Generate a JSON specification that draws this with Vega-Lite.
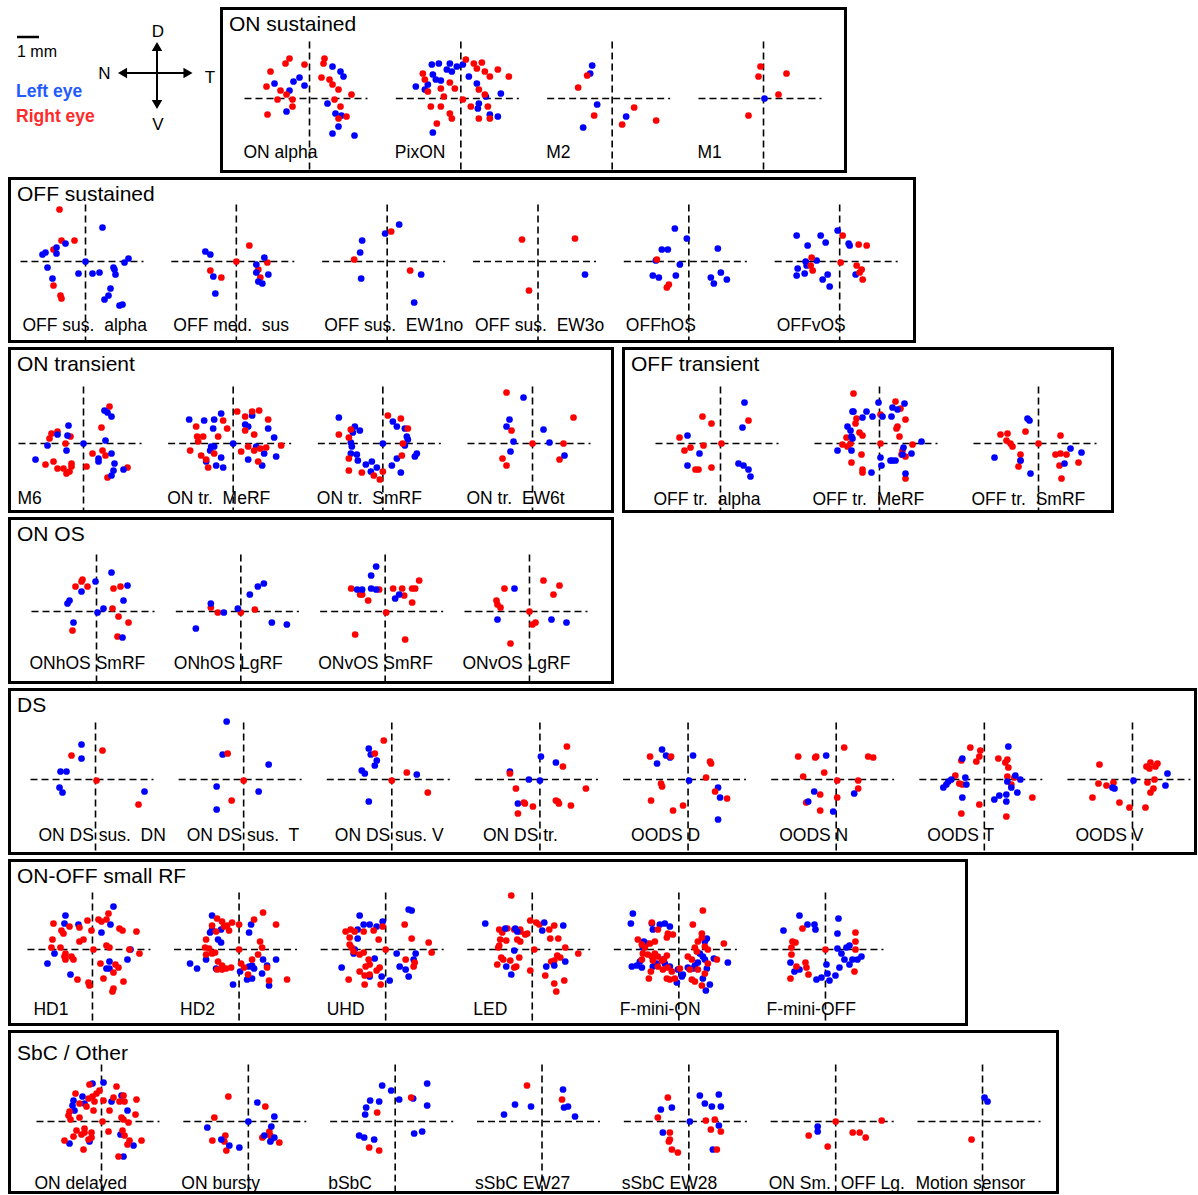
{
"$schema": "https://vega.github.io/schema/vega-lite/v6.json",
"background": "white",
"padding": {"left": 7.5, "top": 6.5, "right": 0, "bottom": 0},
"spacing": 2,
"resolve": {"scale": {"xOffset": "independent"}},
"config": {
  "view": {"stroke": "black", "strokeWidth": 3},
  "font": "Liberation Sans",
  "title": {"anchor": "start", "frame": "group", "fontSize": 21, "fontWeight": "normal", "color": "black", "offset": -26, "baseline": "alphabetic", "dx": 7.5}
},
"datasets": {
"panels": [
{"g":1,"p":"1a","label":"ON alpha"},{"g":1,"p":"1b","label":"PixON"},{"g":1,"p":"1c","label":"M2"},{"g":1,"p":"1d","label":"M1"},
{"g":2,"p":"2a","label":"OFF sus.\u00a0 alpha"},{"g":2,"p":"2b","label":"OFF med.\u00a0 sus"},{"g":2,"p":"2c","label":"OFF sus.\u00a0 EW1no"},{"g":2,"p":"2d","label":"OFF sus.\u00a0 EW3o"},{"g":2,"p":"2e","label":"OFFhOS"},{"g":2,"p":"2f","label":"OFFvOS"},
{"g":3,"p":"3a","label":"M6"},{"g":3,"p":"3b","label":"ON tr.\u00a0 MeRF"},{"g":3,"p":"3c","label":"ON tr.\u00a0 SmRF"},{"g":3,"p":"3d","label":"ON tr.\u00a0 EW6t"},
{"g":4,"p":"4a","label":"OFF tr.\u00a0 alpha"},{"g":4,"p":"4b","label":"OFF tr.\u00a0 MeRF"},{"g":4,"p":"4c","label":"OFF tr.\u00a0 SmRF"},
{"g":5,"p":"5a","label":"ONhOS SmRF"},{"g":5,"p":"5b","label":"ONhOS LgRF"},{"g":5,"p":"5c","label":"ONvOS SmRF"},{"g":5,"p":"5d","label":"ONvOS LgRF"},
{"g":6,"p":"6a","label":"ON DS sus.\u00a0 DN"},{"g":6,"p":"6b","label":"ON DS sus.\u00a0 T"},{"g":6,"p":"6c","label":"ON DS sus. V"},{"g":6,"p":"6d","label":"ON DS tr."},{"g":6,"p":"6e","label":"OODS D"},{"g":6,"p":"6f","label":"OODS N"},{"g":6,"p":"6g","label":"OODS T"},{"g":6,"p":"6h","label":"OODS V"},
{"g":7,"p":"7a","label":"HD1"},{"g":7,"p":"7b","label":"HD2"},{"g":7,"p":"7c","label":"UHD"},{"g":7,"p":"7d","label":"LED"},{"g":7,"p":"7e","label":"F-mini-ON"},{"g":7,"p":"7f","label":"F-mini-OFF"},
{"g":8,"p":"8a","label":"ON delayed"},{"g":8,"p":"8b","label":"ON bursty"},{"g":8,"p":"8c","label":"bSbC"},{"g":8,"p":"8d","label":"sSbC EW27"},{"g":8,"p":"8e","label":"sSbC EW28"},{"g":8,"p":"8f","label":"ON Sm.\u00a0 OFF Lg."},{"g":8,"p":"8g","label":"Motion sensor"}
],
"pts": [
{"g":1,"p":"1a","e":"L","x":-10,"y":21},{"g":1,"p":"1a","e":"L","x":-16,"y":17},{"g":1,"p":"1a","e":"L","x":-35,"y":15},{"g":1,"p":"1a","e":"L","x":-20,"y":8},{"g":1,"p":"1a","e":"L","x":-5,"y":13},{"g":1,"p":"1a","e":"L","x":-23,"y":-13},{"g":1,"p":"1a","e":"L","x":23,"y":32},{"g":1,"p":"1a","e":"L","x":31,"y":27},{"g":1,"p":"1a","e":"L","x":34,"y":22},{"g":1,"p":"1a","e":"L","x":18,"y":-5},{"g":1,"p":"1a","e":"L","x":26,"y":-15},{"g":1,"p":"1a","e":"L","x":32,"y":-17},{"g":1,"p":"1a","e":"L","x":29,"y":-28},{"g":1,"p":"1a","e":"L","x":23,"y":-35},{"g":1,"p":"1a","e":"L","x":45,"y":-37},
{"g":1,"p":"1a","e":"R","x":-20,"y":40},{"g":1,"p":"1a","e":"R","x":-24,"y":35},{"g":1,"p":"1a","e":"R","x":-39,"y":27},{"g":1,"p":"1a","e":"R","x":-43,"y":12},{"g":1,"p":"1a","e":"R","x":-29,"y":8},{"g":1,"p":"1a","e":"R","x":-32,"y":-1},{"g":1,"p":"1a","e":"R","x":-17,"y":-8},{"g":1,"p":"1a","e":"R","x":-17,"y":-1},{"g":1,"p":"1a","e":"R","x":-42,"y":-16},{"g":1,"p":"1a","e":"R","x":15,"y":40},{"g":1,"p":"1a","e":"R","x":14,"y":35},{"g":1,"p":"1a","e":"R","x":12,"y":21},{"g":1,"p":"1a","e":"R","x":20,"y":19},{"g":1,"p":"1a","e":"R","x":23,"y":14},{"g":1,"p":"1a","e":"R","x":29,"y":9},{"g":1,"p":"1a","e":"R","x":42,"y":4},{"g":1,"p":"1a","e":"R","x":25,"y":-1},{"g":1,"p":"1a","e":"R","x":31,"y":-8},{"g":1,"p":"1a","e":"R","x":29,"y":-20},{"g":1,"p":"1a","e":"R","x":37,"y":-18},{"g":1,"p":"1a","e":"R","x":-5,"y":34},{"g":1,"p":"1a","e":"R","x":-23,"y":4},
{"g":1,"p":"1b","e":"L","x":-29,"y":34},{"g":1,"p":"1b","e":"L","x":-22,"y":35},{"g":1,"p":"1b","e":"L","x":-11,"y":35},{"g":1,"p":"1b","e":"L","x":-4,"y":32},{"g":1,"p":"1b","e":"L","x":-14,"y":29},{"g":1,"p":"1b","e":"L","x":-9,"y":27},{"g":1,"p":"1b","e":"L","x":-28,"y":24},{"g":1,"p":"1b","e":"L","x":-25,"y":19},{"g":1,"p":"1b","e":"L","x":-20,"y":18},{"g":1,"p":"1b","e":"L","x":-33,"y":14},{"g":1,"p":"1b","e":"L","x":-45,"y":12},{"g":1,"p":"1b","e":"L","x":-36,"y":9},{"g":1,"p":"1b","e":"L","x":8,"y":22},{"g":1,"p":"1b","e":"L","x":16,"y":15},{"g":1,"p":"1b","e":"L","x":40,"y":5},{"g":1,"p":"1b","e":"L","x":18,"y":-5},{"g":1,"p":"1b","e":"L","x":17,"y":-10},{"g":1,"p":"1b","e":"L","x":29,"y":-16},{"g":1,"p":"1b","e":"L","x":37,"y":-18},{"g":1,"p":"1b","e":"L","x":-28,"y":-34},{"g":1,"p":"1b","e":"L","x":25,"y":2},{"g":1,"p":"1b","e":"L","x":2,"y":34},
{"g":1,"p":"1b","e":"R","x":5,"y":39},{"g":1,"p":"1b","e":"R","x":13,"y":35},{"g":1,"p":"1b","e":"R","x":21,"y":36},{"g":1,"p":"1b","e":"R","x":16,"y":30},{"g":1,"p":"1b","e":"R","x":24,"y":27},{"g":1,"p":"1b","e":"R","x":29,"y":22},{"g":1,"p":"1b","e":"R","x":37,"y":29},{"g":1,"p":"1b","e":"R","x":48,"y":22},{"g":1,"p":"1b","e":"R","x":-38,"y":25},{"g":1,"p":"1b","e":"R","x":-36,"y":19},{"g":1,"p":"1b","e":"R","x":-20,"y":10},{"g":1,"p":"1b","e":"R","x":-11,"y":16},{"g":1,"p":"1b","e":"R","x":-6,"y":10},{"g":1,"p":"1b","e":"R","x":-33,"y":7},{"g":1,"p":"1b","e":"R","x":-17,"y":2},{"g":1,"p":"1b","e":"R","x":-30,"y":-8},{"g":1,"p":"1b","e":"R","x":-20,"y":-8},{"g":1,"p":"1b","e":"R","x":-11,"y":-15},{"g":1,"p":"1b","e":"R","x":-9,"y":-20},{"g":1,"p":"1b","e":"R","x":-24,"y":-25},{"g":1,"p":"1b","e":"R","x":2,"y":-1},{"g":1,"p":"1b","e":"R","x":10,"y":-8},{"g":1,"p":"1b","e":"R","x":27,"y":-8},{"g":1,"p":"1b","e":"R","x":29,"y":-20},{"g":1,"p":"1b","e":"R","x":18,"y":-20},{"g":1,"p":"1b","e":"R","x":18,"y":9},{"g":1,"p":"1b","e":"R","x":24,"y":4},
{"g":1,"p":"1c","e":"L","x":-20,"y":33},{"g":1,"p":"1c","e":"L","x":-22,"y":25},{"g":1,"p":"1c","e":"L","x":-15,"y":-6},{"g":1,"p":"1c","e":"L","x":-29,"y":-29},{"g":1,"p":"1c","e":"L","x":14,"y":-18},
{"g":1,"p":"1c","e":"R","x":-25,"y":23},{"g":1,"p":"1c","e":"R","x":-34,"y":11},{"g":1,"p":"1c","e":"R","x":-18,"y":-17},{"g":1,"p":"1c","e":"R","x":22,"y":-9},{"g":1,"p":"1c","e":"R","x":10,"y":-26},{"g":1,"p":"1c","e":"R","x":44,"y":-22},
{"g":1,"p":"1d","e":"R","x":-3,"y":32},{"g":1,"p":"1d","e":"R","x":-5,"y":22},{"g":1,"p":"1d","e":"R","x":23,"y":25},{"g":1,"p":"1d","e":"R","x":15,"y":4},{"g":1,"p":"1d","e":"R","x":-15,"y":-17},{"g":1,"p":"1d","e":"L","x":1,"y":0},
{"g":2,"p":"2a","e":"R","x":-26,"y":52},{"g":2,"p":"2a","e":"R","x":-24,"y":21},{"g":2,"p":"2a","e":"R","x":-11,"y":21},{"g":2,"p":"2a","e":"R","x":-32,"y":12},{"g":2,"p":"2a","e":"R","x":-32,"y":-24},{"g":2,"p":"2a","e":"R","x":-25,"y":-34},{"g":2,"p":"2a","e":"R","x":-24,"y":-37},
{"g":2,"p":"2a","e":"L","x":17,"y":34},{"g":2,"p":"2a","e":"L","x":-20,"y":18},{"g":2,"p":"2a","e":"L","x":-29,"y":14},{"g":2,"p":"2a","e":"L","x":-29,"y":8},{"g":2,"p":"2a","e":"L","x":-43,"y":7},{"g":2,"p":"2a","e":"L","x":-40,"y":9},{"g":2,"p":"2a","e":"L","x":-38,"y":-6},{"g":2,"p":"2a","e":"L","x":-33,"y":-17},{"g":2,"p":"2a","e":"L","x":-7,"y":-12},{"g":2,"p":"2a","e":"L","x":0,"y":0},{"g":2,"p":"2a","e":"L","x":7,"y":-12},{"g":2,"p":"2a","e":"L","x":14,"y":-11},{"g":2,"p":"2a","e":"L","x":28,"y":-6},{"g":2,"p":"2a","e":"L","x":29,"y":-8},{"g":2,"p":"2a","e":"L","x":30,"y":-13},{"g":2,"p":"2a","e":"L","x":25,"y":-27},{"g":2,"p":"2a","e":"L","x":23,"y":-34},{"g":2,"p":"2a","e":"L","x":19,"y":-38},{"g":2,"p":"2a","e":"L","x":34,"y":-44},{"g":2,"p":"2a","e":"L","x":37,"y":-43},{"g":2,"p":"2a","e":"L","x":39,"y":-1},{"g":2,"p":"2a","e":"L","x":43,"y":3},
{"g":2,"p":"2b","e":"R","x":13,"y":16},{"g":2,"p":"2b","e":"R","x":-26,"y":-9},{"g":2,"p":"2b","e":"R","x":-15,"y":-16},{"g":2,"p":"2b","e":"R","x":0,"y":0},{"g":2,"p":"2b","e":"R","x":22,"y":-8},{"g":2,"p":"2b","e":"R","x":24,"y":-16},{"g":2,"p":"2b","e":"R","x":31,"y":-1},
{"g":2,"p":"2b","e":"L","x":-31,"y":10},{"g":2,"p":"2b","e":"L","x":-26,"y":7},{"g":2,"p":"2b","e":"L","x":-23,"y":-15},{"g":2,"p":"2b","e":"L","x":-21,"y":-32},{"g":2,"p":"2b","e":"L","x":28,"y":4},{"g":2,"p":"2b","e":"L","x":20,"y":-3},{"g":2,"p":"2b","e":"L","x":20,"y":-11},{"g":2,"p":"2b","e":"L","x":22,"y":-20},{"g":2,"p":"2b","e":"L","x":26,"y":-22},{"g":2,"p":"2b","e":"L","x":32,"y":-13},
{"g":2,"p":"2c","e":"L","x":-25,"y":21},{"g":2,"p":"2c","e":"L","x":-27,"y":9},{"g":2,"p":"2c","e":"L","x":-26,"y":-17},{"g":2,"p":"2c","e":"L","x":-2,"y":28},{"g":2,"p":"2c","e":"L","x":12,"y":37},{"g":2,"p":"2c","e":"L","x":34,"y":-13},{"g":2,"p":"2c","e":"L","x":27,"y":-41},
{"g":2,"p":"2c","e":"R","x":-33,"y":2},{"g":2,"p":"2c","e":"R","x":4,"y":30},{"g":2,"p":"2c","e":"R","x":23,"y":-9},
{"g":2,"p":"2d","e":"R","x":-16,"y":22},{"g":2,"p":"2d","e":"R","x":-9,"y":-29},{"g":2,"p":"2d","e":"R","x":37,"y":23},{"g":2,"p":"2d","e":"L","x":47,"y":-13},
{"g":2,"p":"2e","e":"L","x":-14,"y":33},{"g":2,"p":"2e","e":"L","x":-2,"y":23},{"g":2,"p":"2e","e":"L","x":-27,"y":12},{"g":2,"p":"2e","e":"L","x":-21,"y":12},{"g":2,"p":"2e","e":"L","x":-33,"y":1},{"g":2,"p":"2e","e":"L","x":-9,"y":-3},{"g":2,"p":"2e","e":"L","x":-36,"y":-14},{"g":2,"p":"2e","e":"L","x":-30,"y":-16},{"g":2,"p":"2e","e":"L","x":-13,"y":-14},{"g":2,"p":"2e","e":"L","x":29,"y":13},{"g":2,"p":"2e","e":"L","x":32,"y":-11},{"g":2,"p":"2e","e":"L","x":22,"y":-16},{"g":2,"p":"2e","e":"L","x":25,"y":-22},{"g":2,"p":"2e","e":"L","x":38,"y":-18},
{"g":2,"p":"2e","e":"R","x":-32,"y":2},{"g":2,"p":"2e","e":"R","x":-20,"y":-23},{"g":2,"p":"2e","e":"R","x":-22,"y":-26},
{"g":2,"p":"2f","e":"L","x":-43,"y":26},{"g":2,"p":"2f","e":"L","x":-32,"y":16},{"g":2,"p":"2f","e":"L","x":-19,"y":26},{"g":2,"p":"2f","e":"L","x":-14,"y":19},{"g":2,"p":"2f","e":"L","x":-2,"y":31},{"g":2,"p":"2f","e":"L","x":9,"y":18},{"g":2,"p":"2f","e":"L","x":10,"y":16},{"g":2,"p":"2f","e":"L","x":-34,"y":0},{"g":2,"p":"2f","e":"L","x":-23,"y":1},{"g":2,"p":"2f","e":"L","x":-33,"y":-4},{"g":2,"p":"2f","e":"L","x":-42,"y":-7},{"g":2,"p":"2f","e":"L","x":-35,"y":-12},{"g":2,"p":"2f","e":"L","x":-43,"y":-14},{"g":2,"p":"2f","e":"L","x":-17,"y":-18},{"g":2,"p":"2f","e":"L","x":-12,"y":-13},{"g":2,"p":"2f","e":"L","x":-10,"y":-25},{"g":2,"p":"2f","e":"L","x":16,"y":-13},
{"g":2,"p":"2f","e":"R","x":3,"y":26},{"g":2,"p":"2f","e":"R","x":19,"y":17},{"g":2,"p":"2f","e":"R","x":27,"y":16},{"g":2,"p":"2f","e":"R","x":-28,"y":4},{"g":2,"p":"2f","e":"R","x":-29,"y":-4},{"g":2,"p":"2f","e":"R","x":-27,"y":-9},{"g":2,"p":"2f","e":"R","x":1,"y":-1},{"g":2,"p":"2f","e":"R","x":17,"y":-4},{"g":2,"p":"2f","e":"R","x":22,"y":-8},{"g":2,"p":"2f","e":"R","x":20,"y":-11},{"g":2,"p":"2f","e":"R","x":23,"y":-18},
{"g":3,"p":"3a","e":"R","x":-32,"y":10},{"g":3,"p":"3a","e":"R","x":-26,"y":12},{"g":3,"p":"3a","e":"R","x":-34,"y":5},{"g":3,"p":"3a","e":"R","x":-13,"y":7},{"g":3,"p":"3a","e":"R","x":-18,"y":0},{"g":3,"p":"3a","e":"R","x":-38,"y":-21},{"g":3,"p":"3a","e":"R","x":-30,"y":-18},{"g":3,"p":"3a","e":"R","x":-26,"y":-25},{"g":3,"p":"3a","e":"R","x":-20,"y":-25},{"g":3,"p":"3a","e":"R","x":-17,"y":-30},{"g":3,"p":"3a","e":"R","x":-14,"y":-28},{"g":3,"p":"3a","e":"R","x":-12,"y":-20},{"g":3,"p":"3a","e":"R","x":-12,"y":-23},{"g":3,"p":"3a","e":"R","x":3,"y":-23},{"g":3,"p":"3a","e":"R","x":18,"y":16},{"g":3,"p":"3a","e":"R","x":26,"y":37},{"g":3,"p":"3a","e":"R","x":9,"y":-10},{"g":3,"p":"3a","e":"R","x":19,"y":-7},{"g":3,"p":"3a","e":"R","x":22,"y":-12},{"g":3,"p":"3a","e":"R","x":24,"y":-34},{"g":3,"p":"3a","e":"R","x":44,"y":-24},
{"g":3,"p":"3a","e":"L","x":-15,"y":18},{"g":3,"p":"3a","e":"L","x":-16,"y":8},{"g":3,"p":"3a","e":"L","x":-36,"y":-2},{"g":3,"p":"3a","e":"L","x":-26,"y":9},{"g":3,"p":"3a","e":"L","x":-17,"y":-7},{"g":3,"p":"3a","e":"L","x":-48,"y":-16},{"g":3,"p":"3a","e":"L","x":0,"y":0},{"g":3,"p":"3a","e":"L","x":21,"y":33},{"g":3,"p":"3a","e":"L","x":24,"y":31},{"g":3,"p":"3a","e":"L","x":28,"y":27},{"g":3,"p":"3a","e":"L","x":22,"y":3},{"g":3,"p":"3a","e":"L","x":28,"y":-10},{"g":3,"p":"3a","e":"L","x":15,"y":-15},{"g":3,"p":"3a","e":"L","x":15,"y":-18},{"g":3,"p":"3a","e":"L","x":30,"y":-27},{"g":3,"p":"3a","e":"L","x":28,"y":-32},{"g":3,"p":"3a","e":"L","x":40,"y":-26},{"g":3,"p":"3a","e":"L","x":31,"y":-20},
{"g":3,"p":"3b","e":"L","x":-44,"y":24},{"g":3,"p":"3b","e":"L","x":-29,"y":23},{"g":3,"p":"3b","e":"L","x":-19,"y":24},{"g":3,"p":"3b","e":"L","x":-12,"y":30},{"g":3,"p":"3b","e":"L","x":-20,"y":15},{"g":3,"p":"3b","e":"L","x":-22,"y":-3},{"g":3,"p":"3b","e":"L","x":-19,"y":-3},{"g":3,"p":"3b","e":"L","x":-23,"y":-7},{"g":3,"p":"3b","e":"L","x":-12,"y":-14},{"g":3,"p":"3b","e":"L","x":-27,"y":-18},{"g":3,"p":"3b","e":"L","x":-17,"y":-22},{"g":3,"p":"3b","e":"L","x":-10,"y":-24},{"g":3,"p":"3b","e":"L","x":0,"y":0},{"g":3,"p":"3b","e":"L","x":12,"y":19},{"g":3,"p":"3b","e":"L","x":19,"y":28},{"g":3,"p":"3b","e":"L","x":15,"y":17},{"g":3,"p":"3b","e":"L","x":35,"y":15},{"g":3,"p":"3b","e":"L","x":41,"y":6},{"g":3,"p":"3b","e":"L","x":15,"y":-16},{"g":3,"p":"3b","e":"L","x":23,"y":-3},{"g":3,"p":"3b","e":"L","x":31,"y":-10},{"g":3,"p":"3b","e":"L","x":29,"y":-22},{"g":3,"p":"3b","e":"L","x":43,"y":-13},
{"g":3,"p":"3b","e":"R","x":-37,"y":17},{"g":3,"p":"3b","e":"R","x":-36,"y":7},{"g":3,"p":"3b","e":"R","x":-30,"y":7},{"g":3,"p":"3b","e":"R","x":-35,"y":2},{"g":3,"p":"3b","e":"R","x":-43,"y":-7},{"g":3,"p":"3b","e":"R","x":-32,"y":-12},{"g":3,"p":"3b","e":"R","x":-27,"y":-16},{"g":3,"p":"3b","e":"R","x":-25,"y":-24},{"g":3,"p":"3b","e":"R","x":-19,"y":-10},{"g":3,"p":"3b","e":"R","x":-15,"y":7},{"g":3,"p":"3b","e":"R","x":-10,"y":23},{"g":3,"p":"3b","e":"R","x":-6,"y":15},{"g":3,"p":"3b","e":"R","x":4,"y":32},{"g":3,"p":"3b","e":"R","x":12,"y":27},{"g":3,"p":"3b","e":"R","x":19,"y":32},{"g":3,"p":"3b","e":"R","x":26,"y":33},{"g":3,"p":"3b","e":"R","x":35,"y":24},{"g":3,"p":"3b","e":"R","x":12,"y":13},{"g":3,"p":"3b","e":"R","x":21,"y":9},{"g":3,"p":"3b","e":"R","x":15,"y":-3},{"g":3,"p":"3b","e":"R","x":21,"y":-7},{"g":3,"p":"3b","e":"R","x":25,"y":-18},{"g":3,"p":"3b","e":"R","x":33,"y":-4},{"g":3,"p":"3b","e":"R","x":48,"y":-2},{"g":3,"p":"3b","e":"R","x":8,"y":-8},{"g":3,"p":"3b","e":"R","x":27,"y":-5},
{"g":3,"p":"3c","e":"L","x":-44,"y":26},{"g":3,"p":"3c","e":"L","x":-28,"y":17},{"g":3,"p":"3c","e":"L","x":-23,"y":13},{"g":3,"p":"3c","e":"L","x":-30,"y":11},{"g":3,"p":"3c","e":"L","x":-32,"y":1},{"g":3,"p":"3c","e":"L","x":-31,"y":-3},{"g":3,"p":"3c","e":"L","x":-32,"y":-10},{"g":3,"p":"3c","e":"L","x":-26,"y":-11},{"g":3,"p":"3c","e":"L","x":-25,"y":-17},{"g":3,"p":"3c","e":"L","x":-17,"y":-21},{"g":3,"p":"3c","e":"L","x":-11,"y":-18},{"g":3,"p":"3c","e":"L","x":-6,"y":-24},{"g":3,"p":"3c","e":"L","x":-12,"y":-28},{"g":3,"p":"3c","e":"L","x":0,"y":0},{"g":3,"p":"3c","e":"L","x":10,"y":22},{"g":3,"p":"3c","e":"L","x":14,"y":17},{"g":3,"p":"3c","e":"L","x":22,"y":15},{"g":3,"p":"3c","e":"L","x":24,"y":7},{"g":3,"p":"3c","e":"L","x":25,"y":4},{"g":3,"p":"3c","e":"L","x":22,"y":-2},{"g":3,"p":"3c","e":"L","x":14,"y":-15},{"g":3,"p":"3c","e":"L","x":9,"y":-22},{"g":3,"p":"3c","e":"L","x":18,"y":-29},{"g":3,"p":"3c","e":"L","x":34,"y":-10},{"g":3,"p":"3c","e":"L","x":32,"y":-13},
{"g":3,"p":"3c","e":"R","x":-44,"y":9},{"g":3,"p":"3c","e":"R","x":-32,"y":14},{"g":3,"p":"3c","e":"R","x":-34,"y":6},{"g":3,"p":"3c","e":"R","x":-34,"y":-15},{"g":3,"p":"3c","e":"R","x":-34,"y":-27},{"g":3,"p":"3c","e":"R","x":-21,"y":-29},{"g":3,"p":"3c","e":"R","x":-9,"y":-32},{"g":3,"p":"3c","e":"R","x":-3,"y":-36},{"g":3,"p":"3c","e":"R","x":0,"y":-28},{"g":3,"p":"3c","e":"R","x":5,"y":28},{"g":3,"p":"3c","e":"R","x":18,"y":25},{"g":3,"p":"3c","e":"R","x":25,"y":15},{"g":3,"p":"3c","e":"R","x":20,"y":0},{"g":3,"p":"3c","e":"R","x":19,"y":-12},
{"g":3,"p":"3d","e":"R","x":-26,"y":51},{"g":3,"p":"3d","e":"R","x":-21,"y":13},{"g":3,"p":"3d","e":"R","x":-30,"y":-15},{"g":3,"p":"3d","e":"R","x":-26,"y":-22},{"g":3,"p":"3d","e":"R","x":0,"y":0},{"g":3,"p":"3d","e":"R","x":41,"y":26},{"g":3,"p":"3d","e":"R","x":31,"y":0},{"g":3,"p":"3d","e":"R","x":27,"y":-16},
{"g":3,"p":"3d","e":"L","x":-9,"y":46},{"g":3,"p":"3d","e":"L","x":-23,"y":24},{"g":3,"p":"3d","e":"L","x":-26,"y":17},{"g":3,"p":"3d","e":"L","x":-19,"y":2},{"g":3,"p":"3d","e":"L","x":-22,"y":-8},{"g":3,"p":"3d","e":"L","x":11,"y":14},{"g":3,"p":"3d","e":"L","x":17,"y":1},{"g":3,"p":"3d","e":"L","x":32,"y":-12},
{"g":4,"p":"4a","e":"R","x":-41,"y":6},{"g":4,"p":"4a","e":"R","x":-36,"y":-7},{"g":4,"p":"4a","e":"R","x":-30,"y":-4},{"g":4,"p":"4a","e":"R","x":-18,"y":27},{"g":4,"p":"4a","e":"R","x":-9,"y":20},{"g":4,"p":"4a","e":"R","x":-17,"y":-2},{"g":4,"p":"4a","e":"R","x":1,"y":0},{"g":4,"p":"4a","e":"R","x":-25,"y":-26},{"g":4,"p":"4a","e":"R","x":-22,"y":-26},{"g":4,"p":"4a","e":"R","x":-9,"y":-24},{"g":4,"p":"4a","e":"R","x":28,"y":23},
{"g":4,"p":"4a","e":"L","x":-33,"y":8},{"g":4,"p":"4a","e":"L","x":-21,"y":-10},{"g":4,"p":"4a","e":"L","x":-33,"y":-22},{"g":4,"p":"4a","e":"L","x":24,"y":41},{"g":4,"p":"4a","e":"L","x":22,"y":16},{"g":4,"p":"4a","e":"L","x":18,"y":-20},{"g":4,"p":"4a","e":"L","x":23,"y":-22},{"g":4,"p":"4a","e":"L","x":28,"y":-26},{"g":4,"p":"4a","e":"L","x":30,"y":-33},
{"g":4,"p":"4b","e":"R","x":-26,"y":50},{"g":4,"p":"4b","e":"R","x":-23,"y":25},{"g":4,"p":"4b","e":"R","x":-24,"y":20},{"g":4,"p":"4b","e":"R","x":-20,"y":11},{"g":4,"p":"4b","e":"R","x":-17,"y":8},{"g":4,"p":"4b","e":"R","x":-33,"y":6},{"g":4,"p":"4b","e":"R","x":-37,"y":-1},{"g":4,"p":"4b","e":"R","x":-32,"y":-3},{"g":4,"p":"4b","e":"R","x":-29,"y":0},{"g":4,"p":"4b","e":"R","x":-18,"y":-11},{"g":4,"p":"4b","e":"R","x":-28,"y":-19},{"g":4,"p":"4b","e":"R","x":-17,"y":-26},{"g":4,"p":"4b","e":"R","x":-17,"y":-29},{"g":4,"p":"4b","e":"R","x":1,"y":0},{"g":4,"p":"4b","e":"R","x":16,"y":42},{"g":4,"p":"4b","e":"R","x":21,"y":35},{"g":4,"p":"4b","e":"R","x":26,"y":24},{"g":4,"p":"4b","e":"R","x":18,"y":17},{"g":4,"p":"4b","e":"R","x":17,"y":15},{"g":4,"p":"4b","e":"R","x":20,"y":7},{"g":4,"p":"4b","e":"R","x":33,"y":-1},{"g":4,"p":"4b","e":"R","x":22,"y":-11},{"g":4,"p":"4b","e":"R","x":26,"y":-13},{"g":4,"p":"4b","e":"R","x":26,"y":-35},{"g":4,"p":"4b","e":"R","x":23,"y":-7},{"g":4,"p":"4b","e":"R","x":1,"y":29},
{"g":4,"p":"4b","e":"L","x":-27,"y":32},{"g":4,"p":"4b","e":"L","x":-26,"y":32},{"g":4,"p":"4b","e":"L","x":-17,"y":26},{"g":4,"p":"4b","e":"L","x":-13,"y":32},{"g":4,"p":"4b","e":"L","x":-7,"y":27},{"g":4,"p":"4b","e":"L","x":-1,"y":41},{"g":4,"p":"4b","e":"L","x":3,"y":27},{"g":4,"p":"4b","e":"L","x":12,"y":27},{"g":4,"p":"4b","e":"L","x":13,"y":36},{"g":4,"p":"4b","e":"L","x":18,"y":34},{"g":4,"p":"4b","e":"L","x":25,"y":40},{"g":4,"p":"4b","e":"L","x":-32,"y":17},{"g":4,"p":"4b","e":"L","x":-29,"y":13},{"g":4,"p":"4b","e":"L","x":-28,"y":7},{"g":4,"p":"4b","e":"L","x":-27,"y":5},{"g":4,"p":"4b","e":"L","x":-42,"y":-7},{"g":4,"p":"4b","e":"L","x":-28,"y":-7},{"g":4,"p":"4b","e":"L","x":1,"y":-14},{"g":4,"p":"4b","e":"L","x":2,"y":-22},{"g":4,"p":"4b","e":"L","x":11,"y":-17},{"g":4,"p":"4b","e":"L","x":13,"y":-17},{"g":4,"p":"4b","e":"L","x":16,"y":-17},{"g":4,"p":"4b","e":"L","x":24,"y":-4},{"g":4,"p":"4b","e":"L","x":23,"y":-11},{"g":4,"p":"4b","e":"L","x":32,"y":-10},{"g":4,"p":"4b","e":"L","x":42,"y":2},{"g":4,"p":"4b","e":"L","x":-8,"y":-29},{"g":4,"p":"4b","e":"L","x":26,"y":-30},
{"g":4,"p":"4c","e":"R","x":-38,"y":9},{"g":4,"p":"4c","e":"R","x":-31,"y":10},{"g":4,"p":"4c","e":"R","x":-32,"y":3},{"g":4,"p":"4c","e":"R","x":-28,"y":0},{"g":4,"p":"4c","e":"R","x":-26,"y":-3},{"g":4,"p":"4c","e":"R","x":-18,"y":-11},{"g":4,"p":"4c","e":"R","x":-18,"y":-17},{"g":4,"p":"4c","e":"R","x":-20,"y":-23},{"g":4,"p":"4c","e":"R","x":-13,"y":12},{"g":4,"p":"4c","e":"R","x":0,"y":0},{"g":4,"p":"4c","e":"R","x":22,"y":8},{"g":4,"p":"4c","e":"R","x":17,"y":-11},{"g":4,"p":"4c","e":"R","x":22,"y":-10},{"g":4,"p":"4c","e":"R","x":28,"y":-11},{"g":4,"p":"4c","e":"R","x":21,"y":-22},{"g":4,"p":"4c","e":"R","x":40,"y":-19},{"g":4,"p":"4c","e":"R","x":23,"y":-35},
{"g":4,"p":"4c","e":"L","x":-44,"y":-14},{"g":4,"p":"4c","e":"L","x":-11,"y":25},{"g":4,"p":"4c","e":"L","x":-9,"y":23},{"g":4,"p":"4c","e":"L","x":-18,"y":-17},{"g":4,"p":"4c","e":"L","x":-8,"y":-30},{"g":4,"p":"4c","e":"L","x":32,"y":-5},{"g":4,"p":"4c","e":"L","x":43,"y":-9},{"g":4,"p":"4c","e":"L","x":26,"y":-20},
{"g":5,"p":"5a","e":"R","x":-21,"y":25},{"g":5,"p":"5a","e":"R","x":-14,"y":32},{"g":5,"p":"5a","e":"R","x":-15,"y":30},{"g":5,"p":"5a","e":"R","x":-9,"y":25},{"g":5,"p":"5a","e":"R","x":17,"y":23},{"g":5,"p":"5a","e":"R","x":24,"y":25},{"g":5,"p":"5a","e":"R","x":16,"y":3},{"g":5,"p":"5a","e":"R","x":22,"y":-5},{"g":5,"p":"5a","e":"R","x":32,"y":-11},{"g":5,"p":"5a","e":"R","x":-24,"y":-19},{"g":5,"p":"5a","e":"R","x":21,"y":-25},
{"g":5,"p":"5a","e":"L","x":-1,"y":30},{"g":5,"p":"5a","e":"L","x":-15,"y":20},{"g":5,"p":"5a","e":"L","x":-27,"y":11},{"g":5,"p":"5a","e":"L","x":-29,"y":8},{"g":5,"p":"5a","e":"L","x":-23,"y":-11},{"g":5,"p":"5a","e":"L","x":15,"y":39},{"g":5,"p":"5a","e":"L","x":31,"y":26},{"g":5,"p":"5a","e":"L","x":27,"y":11},{"g":5,"p":"5a","e":"L","x":7,"y":3},{"g":5,"p":"5a","e":"L","x":1,"y":-1},{"g":5,"p":"5a","e":"L","x":26,"y":-26},
{"g":5,"p":"5b","e":"R","x":-30,"y":4},{"g":5,"p":"5b","e":"R","x":-23,"y":-1},{"g":5,"p":"5b","e":"R","x":0,"y":-1},{"g":5,"p":"5b","e":"R","x":14,"y":2},
{"g":5,"p":"5b","e":"L","x":-30,"y":8},{"g":5,"p":"5b","e":"L","x":-17,"y":-1},{"g":5,"p":"5b","e":"L","x":-3,"y":3},{"g":5,"p":"5b","e":"L","x":-45,"y":-17},{"g":5,"p":"5b","e":"L","x":9,"y":17},{"g":5,"p":"5b","e":"L","x":17,"y":25},{"g":5,"p":"5b","e":"L","x":23,"y":28},{"g":5,"p":"5b","e":"L","x":31,"y":-11},{"g":5,"p":"5b","e":"L","x":46,"y":-13},
{"g":5,"p":"5c","e":"R","x":-34,"y":23},{"g":5,"p":"5c","e":"R","x":-25,"y":17},{"g":5,"p":"5c","e":"R","x":-23,"y":17},{"g":5,"p":"5c","e":"R","x":-17,"y":11},{"g":5,"p":"5c","e":"R","x":-6,"y":22},{"g":5,"p":"5c","e":"R","x":8,"y":23},{"g":5,"p":"5c","e":"R","x":17,"y":23},{"g":5,"p":"5c","e":"R","x":19,"y":16},{"g":5,"p":"5c","e":"R","x":27,"y":23},{"g":5,"p":"5c","e":"R","x":30,"y":23},{"g":5,"p":"5c","e":"R","x":34,"y":31},{"g":5,"p":"5c","e":"R","x":27,"y":9},{"g":5,"p":"5c","e":"R","x":1,"y":-1},{"g":5,"p":"5c","e":"R","x":-30,"y":-23},{"g":5,"p":"5c","e":"R","x":20,"y":-28},
{"g":5,"p":"5c","e":"L","x":-28,"y":22},{"g":5,"p":"5c","e":"L","x":-23,"y":22},{"g":5,"p":"5c","e":"L","x":-14,"y":36},{"g":5,"p":"5c","e":"L","x":-9,"y":45},{"g":5,"p":"5c","e":"L","x":-14,"y":23},{"g":5,"p":"5c","e":"L","x":-9,"y":22},{"g":5,"p":"5c","e":"L","x":10,"y":13},{"g":5,"p":"5c","e":"L","x":14,"y":17},
{"g":5,"p":"5d","e":"R","x":-25,"y":23},{"g":5,"p":"5d","e":"R","x":-33,"y":11},{"g":5,"p":"5d","e":"R","x":-32,"y":7},{"g":5,"p":"5d","e":"R","x":-29,"y":4},{"g":5,"p":"5d","e":"R","x":-19,"y":-32},{"g":5,"p":"5d","e":"R","x":0,"y":0},{"g":5,"p":"5d","e":"R","x":3,"y":-13},{"g":5,"p":"5d","e":"R","x":6,"y":-11},{"g":5,"p":"5d","e":"R","x":14,"y":31},{"g":5,"p":"5d","e":"R","x":24,"y":17},{"g":5,"p":"5d","e":"R","x":30,"y":26},
{"g":5,"p":"5d","e":"L","x":-15,"y":23},{"g":5,"p":"5d","e":"L","x":-32,"y":-8},{"g":5,"p":"5d","e":"L","x":22,"y":-8},{"g":5,"p":"5d","e":"L","x":37,"y":-11},
{"g":6,"p":"6a","e":"L","x":-14,"y":35},{"g":6,"p":"6a","e":"L","x":-14,"y":21},{"g":6,"p":"6a","e":"L","x":-35,"y":8},{"g":6,"p":"6a","e":"L","x":-29,"y":8},{"g":6,"p":"6a","e":"L","x":-36,"y":-8},{"g":6,"p":"6a","e":"L","x":-33,"y":-13},{"g":6,"p":"6a","e":"L","x":49,"y":-12},
{"g":6,"p":"6a","e":"R","x":-24,"y":24},{"g":6,"p":"6a","e":"R","x":7,"y":29},{"g":6,"p":"6a","e":"R","x":1,"y":-1},{"g":6,"p":"6a","e":"R","x":43,"y":-25},
{"g":6,"p":"6b","e":"L","x":-17,"y":58},{"g":6,"p":"6b","e":"L","x":-21,"y":25},{"g":6,"p":"6b","e":"L","x":25,"y":15},{"g":6,"p":"6b","e":"L","x":-27,"y":-7},{"g":6,"p":"6b","e":"L","x":-27,"y":-30},{"g":6,"p":"6b","e":"L","x":15,"y":-12},
{"g":6,"p":"6b","e":"R","x":-16,"y":26},{"g":6,"p":"6b","e":"R","x":0,"y":-1},{"g":6,"p":"6b","e":"R","x":-12,"y":-21},
{"g":6,"p":"6c","e":"L","x":-23,"y":31},{"g":6,"p":"6c","e":"L","x":-21,"y":25},{"g":6,"p":"6c","e":"L","x":-15,"y":19},{"g":6,"p":"6c","e":"L","x":-17,"y":14},{"g":6,"p":"6c","e":"L","x":-30,"y":9},{"g":6,"p":"6c","e":"L","x":-27,"y":6},{"g":6,"p":"6c","e":"L","x":25,"y":5},{"g":6,"p":"6c","e":"L","x":-23,"y":-22},
{"g":6,"p":"6c","e":"R","x":-8,"y":39},{"g":6,"p":"6c","e":"R","x":-17,"y":26},{"g":6,"p":"6c","e":"R","x":15,"y":7},{"g":6,"p":"6c","e":"R","x":0,"y":-1},{"g":6,"p":"6c","e":"R","x":36,"y":-13},
{"g":6,"p":"6d","e":"L","x":1,"y":23},{"g":6,"p":"6d","e":"L","x":16,"y":17},{"g":6,"p":"6d","e":"L","x":-30,"y":8},{"g":6,"p":"6d","e":"L","x":-11,"y":0},{"g":6,"p":"6d","e":"L","x":0,"y":-1},{"g":6,"p":"6d","e":"L","x":-22,"y":-24},
{"g":6,"p":"6d","e":"R","x":27,"y":33},{"g":6,"p":"6d","e":"R","x":23,"y":13},{"g":6,"p":"6d","e":"R","x":-30,"y":6},{"g":6,"p":"6d","e":"R","x":-24,"y":-9},{"g":6,"p":"6d","e":"R","x":-16,"y":-23},{"g":6,"p":"6d","e":"R","x":-15,"y":-24},{"g":6,"p":"6d","e":"R","x":-7,"y":-27},{"g":6,"p":"6d","e":"R","x":-22,"y":-34},{"g":6,"p":"6d","e":"R","x":16,"y":-21},{"g":6,"p":"6d","e":"R","x":19,"y":-24},{"g":6,"p":"6d","e":"R","x":18,"y":-22},{"g":6,"p":"6d","e":"R","x":31,"y":-26},{"g":6,"p":"6d","e":"R","x":46,"y":-9},
{"g":6,"p":"6e","e":"L","x":-26,"y":30},{"g":6,"p":"6e","e":"L","x":-22,"y":24},{"g":6,"p":"6e","e":"L","x":-18,"y":22},{"g":6,"p":"6e","e":"L","x":-31,"y":16},{"g":6,"p":"6e","e":"L","x":5,"y":24},{"g":6,"p":"6e","e":"L","x":1,"y":-1},{"g":6,"p":"6e","e":"L","x":30,"y":-8},{"g":6,"p":"6e","e":"L","x":32,"y":-18},{"g":6,"p":"6e","e":"L","x":30,"y":-40},
{"g":6,"p":"6e","e":"R","x":-38,"y":23},{"g":6,"p":"6e","e":"R","x":-17,"y":23},{"g":6,"p":"6e","e":"R","x":-27,"y":-4},{"g":6,"p":"6e","e":"R","x":-26,"y":-7},{"g":6,"p":"6e","e":"R","x":-37,"y":-21},{"g":6,"p":"6e","e":"R","x":-15,"y":-31},{"g":6,"p":"6e","e":"R","x":-5,"y":-26},{"g":6,"p":"6e","e":"R","x":22,"y":18},{"g":6,"p":"6e","e":"R","x":23,"y":16},{"g":6,"p":"6e","e":"R","x":18,"y":2},{"g":6,"p":"6e","e":"R","x":27,"y":-12},{"g":6,"p":"6e","e":"R","x":39,"y":-19},
{"g":6,"p":"6f","e":"R","x":-38,"y":23},{"g":6,"p":"6f","e":"R","x":-21,"y":22},{"g":6,"p":"6f","e":"R","x":-20,"y":23},{"g":6,"p":"6f","e":"R","x":8,"y":32},{"g":6,"p":"6f","e":"R","x":32,"y":23},{"g":6,"p":"6f","e":"R","x":37,"y":22},{"g":6,"p":"6f","e":"R","x":-12,"y":7},{"g":6,"p":"6f","e":"R","x":-33,"y":3},{"g":6,"p":"6f","e":"R","x":1,"y":-1},{"g":6,"p":"6f","e":"R","x":22,"y":-1},{"g":6,"p":"6f","e":"R","x":22,"y":-9},{"g":6,"p":"6f","e":"R","x":1,"y":-18},{"g":6,"p":"6f","e":"R","x":-16,"y":-15},{"g":6,"p":"6f","e":"R","x":-30,"y":-23},{"g":6,"p":"6f","e":"R","x":-16,"y":-31},
{"g":6,"p":"6f","e":"L","x":-10,"y":24},{"g":6,"p":"6f","e":"L","x":-22,"y":-12},{"g":6,"p":"6f","e":"L","x":-28,"y":-22},{"g":6,"p":"6f","e":"L","x":18,"y":-14},{"g":6,"p":"6f","e":"L","x":-3,"y":-32},
{"g":6,"p":"6g","e":"R","x":-14,"y":32},{"g":6,"p":"6g","e":"R","x":-4,"y":29},{"g":6,"p":"6g","e":"R","x":-5,"y":23},{"g":6,"p":"6g","e":"R","x":-8,"y":18},{"g":6,"p":"6g","e":"R","x":-23,"y":19},{"g":6,"p":"6g","e":"R","x":-29,"y":4},{"g":6,"p":"6g","e":"R","x":-25,"y":-4},{"g":6,"p":"6g","e":"R","x":-22,"y":-5},{"g":6,"p":"6g","e":"R","x":14,"y":21},{"g":6,"p":"6g","e":"R","x":21,"y":17},{"g":6,"p":"6g","e":"R","x":23,"y":20},{"g":6,"p":"6g","e":"R","x":24,"y":12},{"g":6,"p":"6g","e":"R","x":23,"y":3},{"g":6,"p":"6g","e":"R","x":30,"y":2},{"g":6,"p":"6g","e":"R","x":27,"y":-5},{"g":6,"p":"6g","e":"R","x":48,"y":-18},{"g":6,"p":"6g","e":"R","x":-5,"y":-25},{"g":6,"p":"6g","e":"R","x":-23,"y":-34},{"g":6,"p":"6g","e":"R","x":22,"y":-37},
{"g":6,"p":"6g","e":"L","x":-22,"y":21},{"g":6,"p":"6g","e":"L","x":-19,"y":2},{"g":6,"p":"6g","e":"L","x":-18,"y":-5},{"g":6,"p":"6g","e":"L","x":-41,"y":-8},{"g":6,"p":"6g","e":"L","x":-38,"y":-5},{"g":6,"p":"6g","e":"L","x":-36,"y":-2},{"g":6,"p":"6g","e":"L","x":-33,"y":0},{"g":6,"p":"6g","e":"L","x":-22,"y":-18},{"g":6,"p":"6g","e":"L","x":24,"y":33},{"g":6,"p":"6g","e":"L","x":31,"y":4},{"g":6,"p":"6g","e":"L","x":36,"y":0},{"g":6,"p":"6g","e":"L","x":23,"y":-2},{"g":6,"p":"6g","e":"L","x":27,"y":-8},{"g":6,"p":"6g","e":"L","x":33,"y":-13},{"g":6,"p":"6g","e":"L","x":10,"y":-20},{"g":6,"p":"6g","e":"L","x":15,"y":-16},{"g":6,"p":"6g","e":"L","x":22,"y":-15},{"g":6,"p":"6g","e":"L","x":22,"y":-22},
{"g":6,"p":"6h","e":"R","x":-33,"y":15},{"g":6,"p":"6h","e":"R","x":-34,"y":-4},{"g":6,"p":"6h","e":"R","x":-26,"y":-6},{"g":6,"p":"6h","e":"R","x":-19,"y":-3},{"g":6,"p":"6h","e":"R","x":-40,"y":-18},{"g":6,"p":"6h","e":"R","x":-13,"y":-23},{"g":6,"p":"6h","e":"R","x":-3,"y":-28},{"g":6,"p":"6h","e":"R","x":13,"y":-28},{"g":6,"p":"6h","e":"R","x":14,"y":13},{"g":6,"p":"6h","e":"R","x":18,"y":17},{"g":6,"p":"6h","e":"R","x":25,"y":16},{"g":6,"p":"6h","e":"R","x":23,"y":13},{"g":6,"p":"6h","e":"R","x":17,"y":11},{"g":6,"p":"6h","e":"R","x":22,"y":0},{"g":6,"p":"6h","e":"R","x":15,"y":-3},{"g":6,"p":"6h","e":"R","x":21,"y":-9},{"g":6,"p":"6h","e":"R","x":18,"y":-13},
{"g":6,"p":"6h","e":"L","x":-20,"y":-8},{"g":6,"p":"6h","e":"L","x":-18,"y":-9},{"g":6,"p":"6h","e":"L","x":1,"y":-1},{"g":6,"p":"6h","e":"L","x":35,"y":6},{"g":6,"p":"6h","e":"L","x":33,"y":-6},
{"g":7,"p":"7a","e":"L","x":21,"y":43},{"g":7,"p":"7a","e":"L","x":-27,"y":34},{"g":7,"p":"7a","e":"L","x":-28,"y":26},{"g":7,"p":"7a","e":"L","x":-14,"y":25},{"g":7,"p":"7a","e":"L","x":18,"y":25},{"g":7,"p":"7a","e":"L","x":9,"y":17},{"g":7,"p":"7a","e":"L","x":-38,"y":-4},{"g":7,"p":"7a","e":"L","x":-45,"y":-14},{"g":7,"p":"7a","e":"L","x":-22,"y":-25},{"g":7,"p":"7a","e":"L","x":17,"y":-12},{"g":7,"p":"7a","e":"L","x":17,"y":-19},{"g":7,"p":"7a","e":"L","x":14,"y":-19},{"g":7,"p":"7a","e":"L","x":35,"y":-10},{"g":7,"p":"7a","e":"L","x":38,"y":0},
{"g":7,"p":"7a","e":"R","x":-39,"y":26},{"g":7,"p":"7a","e":"R","x":-31,"y":19},{"g":7,"p":"7a","e":"R","x":-29,"y":16},{"g":7,"p":"7a","e":"R","x":-23,"y":23},{"g":7,"p":"7a","e":"R","x":-13,"y":22},{"g":7,"p":"7a","e":"R","x":-5,"y":29},{"g":7,"p":"7a","e":"R","x":-1,"y":19},{"g":7,"p":"7a","e":"R","x":6,"y":30},{"g":7,"p":"7a","e":"R","x":9,"y":28},{"g":7,"p":"7a","e":"R","x":14,"y":30},{"g":7,"p":"7a","e":"R","x":16,"y":36},{"g":7,"p":"7a","e":"R","x":27,"y":21},{"g":7,"p":"7a","e":"R","x":30,"y":19},{"g":7,"p":"7a","e":"R","x":44,"y":18},{"g":7,"p":"7a","e":"R","x":-40,"y":10},{"g":7,"p":"7a","e":"R","x":-41,"y":2},{"g":7,"p":"7a","e":"R","x":-32,"y":2},{"g":7,"p":"7a","e":"R","x":-28,"y":-7},{"g":7,"p":"7a","e":"R","x":-27,"y":-10},{"g":7,"p":"7a","e":"R","x":-19,"y":-10},{"g":7,"p":"7a","e":"R","x":-21,"y":-7},{"g":7,"p":"7a","e":"R","x":-13,"y":8},{"g":7,"p":"7a","e":"R","x":-9,"y":10},{"g":7,"p":"7a","e":"R","x":1,"y":0},{"g":7,"p":"7a","e":"R","x":14,"y":4},{"g":7,"p":"7a","e":"R","x":17,"y":2},{"g":7,"p":"7a","e":"R","x":37,"y":0},{"g":7,"p":"7a","e":"R","x":47,"y":-4},{"g":7,"p":"7a","e":"R","x":8,"y":-14},{"g":7,"p":"7a","e":"R","x":23,"y":-15},{"g":7,"p":"7a","e":"R","x":26,"y":-18},{"g":7,"p":"7a","e":"R","x":21,"y":-23},{"g":7,"p":"7a","e":"R","x":11,"y":-29},{"g":7,"p":"7a","e":"R","x":-4,"y":-33},{"g":7,"p":"7a","e":"R","x":-3,"y":-36},{"g":7,"p":"7a","e":"R","x":-15,"y":-30},{"g":7,"p":"7a","e":"R","x":21,"y":-39},{"g":7,"p":"7a","e":"R","x":20,"y":-42},{"g":7,"p":"7a","e":"R","x":31,"y":-32},{"g":7,"p":"7a","e":"R","x":-27,"y":-4},
{"g":7,"p":"7b","e":"L","x":-27,"y":34},{"g":7,"p":"7b","e":"L","x":12,"y":25},{"g":7,"p":"7b","e":"L","x":10,"y":17},{"g":7,"p":"7b","e":"L","x":-27,"y":20},{"g":7,"p":"7b","e":"L","x":-29,"y":17},{"g":7,"p":"7b","e":"L","x":-18,"y":20},{"g":7,"p":"7b","e":"L","x":-21,"y":10},{"g":7,"p":"7b","e":"L","x":-18,"y":7},{"g":7,"p":"7b","e":"L","x":-33,"y":-10},{"g":7,"p":"7b","e":"L","x":-49,"y":-14},{"g":7,"p":"7b","e":"L","x":-42,"y":-19},{"g":7,"p":"7b","e":"L","x":-23,"y":-19},{"g":7,"p":"7b","e":"L","x":1,"y":-22},{"g":7,"p":"7b","e":"L","x":10,"y":-17},{"g":7,"p":"7b","e":"L","x":13,"y":-16},{"g":7,"p":"7b","e":"L","x":15,"y":-19},{"g":7,"p":"7b","e":"L","x":13,"y":-29},{"g":7,"p":"7b","e":"L","x":8,"y":-30},{"g":7,"p":"7b","e":"L","x":24,"y":-10},{"g":7,"p":"7b","e":"L","x":37,"y":-10},{"g":7,"p":"7b","e":"L","x":28,"y":-16},{"g":7,"p":"7b","e":"L","x":23,"y":-24},{"g":7,"p":"7b","e":"L","x":-6,"y":-35},{"g":7,"p":"7b","e":"L","x":30,"y":-36},
{"g":7,"p":"7b","e":"R","x":-22,"y":31},{"g":7,"p":"7b","e":"R","x":-17,"y":28},{"g":7,"p":"7b","e":"R","x":-7,"y":27},{"g":7,"p":"7b","e":"R","x":-12,"y":24},{"g":7,"p":"7b","e":"R","x":-15,"y":23},{"g":7,"p":"7b","e":"R","x":-23,"y":18},{"g":7,"p":"7b","e":"R","x":-10,"y":19},{"g":7,"p":"7b","e":"R","x":0,"y":25},{"g":7,"p":"7b","e":"R","x":15,"y":30},{"g":7,"p":"7b","e":"R","x":24,"y":37},{"g":7,"p":"7b","e":"R","x":37,"y":25},{"g":7,"p":"7b","e":"R","x":-33,"y":10},{"g":7,"p":"7b","e":"R","x":-34,"y":2},{"g":7,"p":"7b","e":"R","x":-30,"y":1},{"g":7,"p":"7b","e":"R","x":-27,"y":-4},{"g":7,"p":"7b","e":"R","x":-24,"y":-3},{"g":7,"p":"7b","e":"R","x":-33,"y":-5},{"g":7,"p":"7b","e":"R","x":-21,"y":-12},{"g":7,"p":"7b","e":"R","x":-17,"y":-16},{"g":7,"p":"7b","e":"R","x":-13,"y":-19},{"g":7,"p":"7b","e":"R","x":-8,"y":-18},{"g":7,"p":"7b","e":"R","x":-22,"y":-20},{"g":7,"p":"7b","e":"R","x":-17,"y":-20},{"g":7,"p":"7b","e":"R","x":0,"y":0},{"g":7,"p":"7b","e":"R","x":2,"y":-14},{"g":7,"p":"7b","e":"R","x":9,"y":-25},{"g":7,"p":"7b","e":"R","x":13,"y":-10},{"g":7,"p":"7b","e":"R","x":21,"y":8},{"g":7,"p":"7b","e":"R","x":23,"y":2},{"g":7,"p":"7b","e":"R","x":19,"y":-5},{"g":7,"p":"7b","e":"R","x":28,"y":-18},{"g":7,"p":"7b","e":"R","x":30,"y":-31},{"g":7,"p":"7b","e":"R","x":48,"y":-30},{"g":7,"p":"7b","e":"R","x":-27,"y":24},{"g":7,"p":"7b","e":"R","x":5,"y":-18},
{"g":7,"p":"7c","e":"L","x":23,"y":40},{"g":7,"p":"7c","e":"L","x":26,"y":39},{"g":7,"p":"7c","e":"L","x":-26,"y":34},{"g":7,"p":"7c","e":"L","x":-3,"y":28},{"g":7,"p":"7c","e":"L","x":-22,"y":25},{"g":7,"p":"7c","e":"L","x":-16,"y":25},{"g":7,"p":"7c","e":"L","x":-9,"y":23},{"g":7,"p":"7c","e":"L","x":-28,"y":20},{"g":7,"p":"7c","e":"L","x":-28,"y":11},{"g":7,"p":"7c","e":"L","x":-31,"y":0},{"g":7,"p":"7c","e":"L","x":-32,"y":-4},{"g":7,"p":"7c","e":"L","x":-11,"y":-9},{"g":7,"p":"7c","e":"L","x":-16,"y":-27},{"g":7,"p":"7c","e":"L","x":-4,"y":-27},{"g":7,"p":"7c","e":"L","x":4,"y":-31},{"g":7,"p":"7c","e":"L","x":-44,"y":-18},{"g":7,"p":"7c","e":"L","x":11,"y":-4},{"g":7,"p":"7c","e":"L","x":14,"y":-17},{"g":7,"p":"7c","e":"L","x":20,"y":-20},{"g":7,"p":"7c","e":"L","x":23,"y":-27},{"g":7,"p":"7c","e":"L","x":30,"y":-4},{"g":7,"p":"7c","e":"L","x":28,"y":-10},
{"g":7,"p":"7c","e":"R","x":-40,"y":18},{"g":7,"p":"7c","e":"R","x":-35,"y":20},{"g":7,"p":"7c","e":"R","x":-31,"y":18},{"g":7,"p":"7c","e":"R","x":-22,"y":18},{"g":7,"p":"7c","e":"R","x":-12,"y":19},{"g":7,"p":"7c","e":"R","x":-7,"y":10},{"g":7,"p":"7c","e":"R","x":-3,"y":23},{"g":7,"p":"7c","e":"R","x":-36,"y":12},{"g":7,"p":"7c","e":"R","x":-36,"y":5},{"g":7,"p":"7c","e":"R","x":-34,"y":2},{"g":7,"p":"7c","e":"R","x":-32,"y":-2},{"g":7,"p":"7c","e":"R","x":-26,"y":-5},{"g":7,"p":"7c","e":"R","x":-22,"y":-3},{"g":7,"p":"7c","e":"R","x":-17,"y":-10},{"g":7,"p":"7c","e":"R","x":-16,"y":-15},{"g":7,"p":"7c","e":"R","x":-20,"y":-17},{"g":7,"p":"7c","e":"R","x":-26,"y":-22},{"g":7,"p":"7c","e":"R","x":-21,"y":-26},{"g":7,"p":"7c","e":"R","x":-16,"y":-25},{"g":7,"p":"7c","e":"R","x":-37,"y":-30},{"g":7,"p":"7c","e":"R","x":-21,"y":-35},{"g":7,"p":"7c","e":"R","x":-5,"y":-35},{"g":7,"p":"7c","e":"R","x":0,"y":0},{"g":7,"p":"7c","e":"R","x":19,"y":25},{"g":7,"p":"7c","e":"R","x":26,"y":11},{"g":7,"p":"7c","e":"R","x":43,"y":7},{"g":7,"p":"7c","e":"R","x":46,"y":-3},{"g":7,"p":"7c","e":"R","x":20,"y":-10},{"g":7,"p":"7c","e":"R","x":29,"y":-13},{"g":7,"p":"7c","e":"R","x":28,"y":-17},{"g":7,"p":"7c","e":"R","x":-6,"y":-18},{"g":7,"p":"7c","e":"R","x":-9,"y":-21},
{"g":7,"p":"7d","e":"R","x":-21,"y":54},{"g":7,"p":"7d","e":"R","x":-2,"y":29},{"g":7,"p":"7d","e":"R","x":4,"y":27},{"g":7,"p":"7d","e":"R","x":7,"y":25},{"g":7,"p":"7d","e":"R","x":-33,"y":20},{"g":7,"p":"7d","e":"R","x":-30,"y":17},{"g":7,"p":"7d","e":"R","x":-25,"y":21},{"g":7,"p":"7d","e":"R","x":-18,"y":20},{"g":7,"p":"7d","e":"R","x":-12,"y":20},{"g":7,"p":"7d","e":"R","x":-12,"y":18},{"g":7,"p":"7d","e":"R","x":-7,"y":15},{"g":7,"p":"7d","e":"R","x":-5,"y":16},{"g":7,"p":"7d","e":"R","x":-32,"y":10},{"g":7,"p":"7d","e":"R","x":-33,"y":4},{"g":7,"p":"7d","e":"R","x":-34,"y":2},{"g":7,"p":"7d","e":"R","x":-26,"y":9},{"g":7,"p":"7d","e":"R","x":-15,"y":10},{"g":7,"p":"7d","e":"R","x":-12,"y":8},{"g":7,"p":"7d","e":"R","x":2,"y":0},{"g":7,"p":"7d","e":"R","x":-31,"y":-8},{"g":7,"p":"7d","e":"R","x":-29,"y":-10},{"g":7,"p":"7d","e":"R","x":-22,"y":-11},{"g":7,"p":"7d","e":"R","x":-13,"y":-8},{"g":7,"p":"7d","e":"R","x":-18,"y":-18},{"g":7,"p":"7d","e":"R","x":-16,"y":-17},{"g":7,"p":"7d","e":"R","x":-35,"y":-15},{"g":7,"p":"7d","e":"R","x":-2,"y":-21},{"g":7,"p":"7d","e":"R","x":17,"y":20},{"g":7,"p":"7d","e":"R","x":22,"y":24},{"g":7,"p":"7d","e":"R","x":18,"y":11},{"g":7,"p":"7d","e":"R","x":26,"y":11},{"g":7,"p":"7d","e":"R","x":33,"y":2},{"g":7,"p":"7d","e":"R","x":46,"y":-4},{"g":7,"p":"7d","e":"R","x":25,"y":-6},{"g":7,"p":"7d","e":"R","x":28,"y":-8},{"g":7,"p":"7d","e":"R","x":19,"y":-12},{"g":7,"p":"7d","e":"R","x":22,"y":-11},{"g":7,"p":"7d","e":"R","x":13,"y":-26},{"g":7,"p":"7d","e":"R","x":32,"y":-31},{"g":7,"p":"7d","e":"R","x":22,"y":-34},{"g":7,"p":"7d","e":"R","x":24,"y":-42},
{"g":7,"p":"7d","e":"L","x":-47,"y":26},{"g":7,"p":"7d","e":"L","x":-27,"y":21},{"g":7,"p":"7d","e":"L","x":-17,"y":21},{"g":7,"p":"7d","e":"L","x":-15,"y":18},{"g":7,"p":"7d","e":"L","x":12,"y":27},{"g":7,"p":"7d","e":"L","x":10,"y":19},{"g":7,"p":"7d","e":"L","x":31,"y":24},{"g":7,"p":"7d","e":"L","x":-18,"y":-1},{"g":7,"p":"7d","e":"L","x":-26,"y":-17},{"g":7,"p":"7d","e":"L","x":-21,"y":-25},{"g":7,"p":"7d","e":"L","x":14,"y":-17},{"g":7,"p":"7d","e":"L","x":22,"y":-16},{"g":7,"p":"7d","e":"L","x":33,"y":-12},
{"g":7,"p":"7e","e":"L","x":-46,"y":36},{"g":7,"p":"7e","e":"L","x":-48,"y":26},{"g":7,"p":"7e","e":"L","x":-27,"y":26},{"g":7,"p":"7e","e":"L","x":-19,"y":25},{"g":7,"p":"7e","e":"L","x":-14,"y":26},{"g":7,"p":"7e","e":"L","x":-9,"y":23},{"g":7,"p":"7e","e":"L","x":-26,"y":20},{"g":7,"p":"7e","e":"L","x":-32,"y":6},{"g":7,"p":"7e","e":"L","x":-36,"y":2},{"g":7,"p":"7e","e":"L","x":-35,"y":8},{"g":7,"p":"7e","e":"L","x":-47,"y":-17},{"g":7,"p":"7e","e":"L","x":-42,"y":-16},{"g":7,"p":"7e","e":"L","x":-39,"y":-12},{"g":7,"p":"7e","e":"L","x":-37,"y":-18},{"g":7,"p":"7e","e":"L","x":-26,"y":-17},{"g":7,"p":"7e","e":"L","x":-22,"y":-14},{"g":7,"p":"7e","e":"L","x":-16,"y":-10},{"g":7,"p":"7e","e":"L","x":-14,"y":-14},{"g":7,"p":"7e","e":"L","x":-9,"y":-17},{"g":7,"p":"7e","e":"L","x":-1,"y":-20},{"g":7,"p":"7e","e":"L","x":3,"y":-27},{"g":7,"p":"7e","e":"L","x":-2,"y":-33},{"g":7,"p":"7e","e":"L","x":9,"y":-18},{"g":7,"p":"7e","e":"L","x":14,"y":-19},{"g":7,"p":"7e","e":"L","x":16,"y":-16},{"g":7,"p":"7e","e":"L","x":21,"y":-4},{"g":7,"p":"7e","e":"L","x":24,"y":-7},{"g":7,"p":"7e","e":"L","x":26,"y":-10},{"g":7,"p":"7e","e":"L","x":28,"y":11},{"g":7,"p":"7e","e":"L","x":26,"y":8},{"g":7,"p":"7e","e":"L","x":28,"y":-19},{"g":7,"p":"7e","e":"L","x":24,"y":-29},{"g":7,"p":"7e","e":"L","x":27,"y":-41},{"g":7,"p":"7e","e":"L","x":31,"y":-35},{"g":7,"p":"7e","e":"L","x":35,"y":-9},{"g":7,"p":"7e","e":"L","x":49,"y":-13},{"g":7,"p":"7e","e":"L","x":19,"y":-13},{"g":7,"p":"7e","e":"L","x":4,"y":-25},
{"g":7,"p":"7e","e":"R","x":24,"y":39},{"g":7,"p":"7e","e":"R","x":14,"y":25},{"g":7,"p":"7e","e":"R","x":23,"y":16},{"g":7,"p":"7e","e":"R","x":23,"y":12},{"g":7,"p":"7e","e":"R","x":19,"y":8},{"g":7,"p":"7e","e":"R","x":16,"y":2},{"g":7,"p":"7e","e":"R","x":18,"y":-2},{"g":7,"p":"7e","e":"R","x":26,"y":3},{"g":7,"p":"7e","e":"R","x":-27,"y":27},{"g":7,"p":"7e","e":"R","x":-21,"y":20},{"g":7,"p":"7e","e":"R","x":-12,"y":12},{"g":7,"p":"7e","e":"R","x":-11,"y":16},{"g":7,"p":"7e","e":"R","x":-6,"y":15},{"g":7,"p":"7e","e":"R","x":-41,"y":10},{"g":7,"p":"7e","e":"R","x":-37,"y":5},{"g":7,"p":"7e","e":"R","x":-34,"y":2},{"g":7,"p":"7e","e":"R","x":-29,"y":6},{"g":7,"p":"7e","e":"R","x":-24,"y":8},{"g":7,"p":"7e","e":"R","x":-36,"y":-4},{"g":7,"p":"7e","e":"R","x":-31,"y":-5},{"g":7,"p":"7e","e":"R","x":-27,"y":-7},{"g":7,"p":"7e","e":"R","x":-24,"y":-4},{"g":7,"p":"7e","e":"R","x":-21,"y":-7},{"g":7,"p":"7e","e":"R","x":-17,"y":-11},{"g":7,"p":"7e","e":"R","x":-12,"y":-6},{"g":7,"p":"7e","e":"R","x":-15,"y":-10},{"g":7,"p":"7e","e":"R","x":-37,"y":-10},{"g":7,"p":"7e","e":"R","x":-26,"y":-11},{"g":7,"p":"7e","e":"R","x":-21,"y":-17},{"g":7,"p":"7e","e":"R","x":-16,"y":-20},{"g":7,"p":"7e","e":"R","x":-11,"y":-18},{"g":7,"p":"7e","e":"R","x":-7,"y":-22},{"g":7,"p":"7e","e":"R","x":1,"y":-19},{"g":7,"p":"7e","e":"R","x":-12,"y":-29},{"g":7,"p":"7e","e":"R","x":-9,"y":-30},{"g":7,"p":"7e","e":"R","x":-4,"y":-29},{"g":7,"p":"7e","e":"R","x":-30,"y":-29},{"g":7,"p":"7e","e":"R","x":-28,"y":-22},{"g":7,"p":"7e","e":"R","x":13,"y":-30},{"g":7,"p":"7e","e":"R","x":16,"y":-32},{"g":7,"p":"7e","e":"R","x":23,"y":-36},{"g":7,"p":"7e","e":"R","x":26,"y":-24},{"g":7,"p":"7e","e":"R","x":19,"y":-20},{"g":7,"p":"7e","e":"R","x":11,"y":-20},{"g":7,"p":"7e","e":"R","x":13,"y":-10},{"g":7,"p":"7e","e":"R","x":29,"y":-14},{"g":7,"p":"7e","e":"R","x":29,"y":0},{"g":7,"p":"7e","e":"R","x":38,"y":-10},{"g":7,"p":"7e","e":"R","x":45,"y":6},{"g":7,"p":"7e","e":"R","x":9,"y":-7},
{"g":7,"p":"7f","e":"L","x":-26,"y":34},{"g":7,"p":"7f","e":"L","x":-42,"y":19},{"g":7,"p":"7f","e":"L","x":-18,"y":25},{"g":7,"p":"7f","e":"L","x":-11,"y":25},{"g":7,"p":"7f","e":"L","x":-10,"y":20},{"g":7,"p":"7f","e":"L","x":13,"y":31},{"g":7,"p":"7f","e":"L","x":12,"y":16},{"g":7,"p":"7f","e":"L","x":12,"y":1},{"g":7,"p":"7f","e":"L","x":21,"y":2},{"g":7,"p":"7f","e":"L","x":24,"y":4},{"g":7,"p":"7f","e":"L","x":16,"y":-4},{"g":7,"p":"7f","e":"L","x":19,"y":-10},{"g":7,"p":"7f","e":"L","x":14,"y":-18},{"g":7,"p":"7f","e":"L","x":27,"y":-10},{"g":7,"p":"7f","e":"L","x":32,"y":-10},{"g":7,"p":"7f","e":"L","x":36,"y":-7},{"g":7,"p":"7f","e":"L","x":24,"y":-15},{"g":7,"p":"7f","e":"L","x":1,"y":-15},{"g":7,"p":"7f","e":"L","x":2,"y":-24},{"g":7,"p":"7f","e":"L","x":10,"y":-26},{"g":7,"p":"7f","e":"L","x":4,"y":-31},{"g":7,"p":"7f","e":"L","x":-9,"y":-30},{"g":7,"p":"7f","e":"L","x":-4,"y":-28},{"g":7,"p":"7f","e":"L","x":-35,"y":-13},{"g":7,"p":"7f","e":"L","x":-31,"y":-22},{"g":7,"p":"7f","e":"L","x":-26,"y":-20},
{"g":7,"p":"7f","e":"R","x":-23,"y":21},{"g":7,"p":"7f","e":"R","x":-33,"y":8},{"g":7,"p":"7f","e":"R","x":-30,"y":7},{"g":7,"p":"7f","e":"R","x":-34,"y":2},{"g":7,"p":"7f","e":"R","x":-34,"y":-5},{"g":7,"p":"7f","e":"R","x":-29,"y":-17},{"g":7,"p":"7f","e":"R","x":-20,"y":-13},{"g":7,"p":"7f","e":"R","x":-19,"y":-18},{"g":7,"p":"7f","e":"R","x":-17,"y":-25},{"g":7,"p":"7f","e":"R","x":-35,"y":-29},{"g":7,"p":"7f","e":"R","x":0,"y":0},{"g":7,"p":"7f","e":"R","x":30,"y":17},{"g":7,"p":"7f","e":"R","x":30,"y":8},{"g":7,"p":"7f","e":"R","x":30,"y":0},{"g":7,"p":"7f","e":"R","x":29,"y":-22},
{"g":8,"p":"8a","e":"L","x":-9,"y":38},{"g":8,"p":"8a","e":"L","x":2,"y":39},{"g":8,"p":"8a","e":"L","x":-19,"y":25},{"g":8,"p":"8a","e":"L","x":-28,"y":21},{"g":8,"p":"8a","e":"L","x":-29,"y":16},{"g":8,"p":"8a","e":"L","x":-17,"y":18},{"g":8,"p":"8a","e":"L","x":-27,"y":11},{"g":8,"p":"8a","e":"L","x":10,"y":20},{"g":8,"p":"8a","e":"L","x":20,"y":26},{"g":8,"p":"8a","e":"L","x":26,"y":11},{"g":8,"p":"8a","e":"L","x":19,"y":-13},{"g":8,"p":"8a","e":"L","x":32,"y":-24},{"g":8,"p":"8a","e":"L","x":22,"y":-35},{"g":8,"p":"8a","e":"L","x":-32,"y":-22},{"g":8,"p":"8a","e":"L","x":-12,"y":-20},
{"g":8,"p":"8a","e":"R","x":-12,"y":37},{"g":8,"p":"8a","e":"R","x":-2,"y":31},{"g":8,"p":"8a","e":"R","x":15,"y":35},{"g":8,"p":"8a","e":"R","x":-26,"y":28},{"g":8,"p":"8a","e":"R","x":-5,"y":28},{"g":8,"p":"8a","e":"R","x":-9,"y":25},{"g":8,"p":"8a","e":"R","x":-13,"y":23},{"g":8,"p":"8a","e":"R","x":-22,"y":18},{"g":8,"p":"8a","e":"R","x":-7,"y":20},{"g":8,"p":"8a","e":"R","x":-15,"y":15},{"g":8,"p":"8a","e":"R","x":-8,"y":11},{"g":8,"p":"8a","e":"R","x":2,"y":21},{"g":8,"p":"8a","e":"R","x":12,"y":24},{"g":8,"p":"8a","e":"R","x":18,"y":20},{"g":8,"p":"8a","e":"R","x":23,"y":20},{"g":8,"p":"8a","e":"R","x":22,"y":26},{"g":8,"p":"8a","e":"R","x":35,"y":22},{"g":8,"p":"8a","e":"R","x":-32,"y":10},{"g":8,"p":"8a","e":"R","x":-33,"y":6},{"g":8,"p":"8a","e":"R","x":-31,"y":2},{"g":8,"p":"8a","e":"R","x":-22,"y":4},{"g":8,"p":"8a","e":"R","x":8,"y":11},{"g":8,"p":"8a","e":"R","x":34,"y":7},{"g":8,"p":"8a","e":"R","x":20,"y":4},{"g":8,"p":"8a","e":"R","x":22,"y":2},{"g":8,"p":"8a","e":"R","x":27,"y":-1},{"g":8,"p":"8a","e":"R","x":1,"y":0},{"g":8,"p":"8a","e":"R","x":-25,"y":-9},{"g":8,"p":"8a","e":"R","x":-17,"y":-7},{"g":8,"p":"8a","e":"R","x":-28,"y":-15},{"g":8,"p":"8a","e":"R","x":-20,"y":-13},{"g":8,"p":"8a","e":"R","x":-17,"y":-11},{"g":8,"p":"8a","e":"R","x":-10,"y":-11},{"g":8,"p":"8a","e":"R","x":-13,"y":-18},{"g":8,"p":"8a","e":"R","x":-37,"y":-19},{"g":8,"p":"8a","e":"R","x":7,"y":-10},{"g":8,"p":"8a","e":"R","x":21,"y":-9},{"g":8,"p":"8a","e":"R","x":23,"y":-14},{"g":8,"p":"8a","e":"R","x":26,"y":-23},{"g":8,"p":"8a","e":"R","x":40,"y":-19},{"g":8,"p":"8a","e":"R","x":17,"y":-35},{"g":8,"p":"8a","e":"R","x":-18,"y":-28},{"g":8,"p":"8a","e":"R","x":-10,"y":-16},{"g":8,"p":"8a","e":"R","x":28,"y":-19},
{"g":8,"p":"8b","e":"R","x":-20,"y":25},{"g":8,"p":"8b","e":"R","x":-34,"y":4},{"g":8,"p":"8b","e":"R","x":-36,"y":-19},{"g":8,"p":"8b","e":"R","x":-23,"y":-14},{"g":8,"p":"8b","e":"R","x":-24,"y":-20},{"g":8,"p":"8b","e":"R","x":-22,"y":-29},{"g":8,"p":"8b","e":"R","x":17,"y":15},{"g":8,"p":"8b","e":"R","x":14,"y":-16},{"g":8,"p":"8b","e":"R","x":21,"y":-10},{"g":8,"p":"8b","e":"R","x":22,"y":-14},{"g":8,"p":"8b","e":"R","x":23,"y":-18},{"g":8,"p":"8b","e":"R","x":31,"y":-21},
{"g":8,"p":"8b","e":"L","x":-41,"y":-6},{"g":8,"p":"8b","e":"L","x":-27,"y":-18},{"g":8,"p":"8b","e":"L","x":-19,"y":-24},{"g":8,"p":"8b","e":"L","x":-9,"y":-26},{"g":8,"p":"8b","e":"L","x":0,"y":0},{"g":8,"p":"8b","e":"L","x":9,"y":19},{"g":8,"p":"8b","e":"L","x":26,"y":5},{"g":8,"p":"8b","e":"L","x":23,"y":-5},{"g":8,"p":"8b","e":"L","x":16,"y":-14},{"g":8,"p":"8b","e":"L","x":26,"y":-16},{"g":8,"p":"8b","e":"L","x":22,"y":-20},
{"g":8,"p":"8c","e":"L","x":-13,"y":36},{"g":8,"p":"8c","e":"L","x":-4,"y":31},{"g":8,"p":"8c","e":"L","x":-25,"y":21},{"g":8,"p":"8c","e":"L","x":-16,"y":20},{"g":8,"p":"8c","e":"L","x":-29,"y":14},{"g":8,"p":"8c","e":"L","x":-30,"y":7},{"g":8,"p":"8c","e":"L","x":4,"y":22},{"g":8,"p":"8c","e":"L","x":32,"y":38},{"g":8,"p":"8c","e":"L","x":32,"y":16},{"g":8,"p":"8c","e":"L","x":18,"y":23},{"g":8,"p":"8c","e":"L","x":-36,"y":-14},{"g":8,"p":"8c","e":"L","x":-31,"y":-16},{"g":8,"p":"8c","e":"L","x":-21,"y":-18},{"g":8,"p":"8c","e":"L","x":19,"y":-12},{"g":8,"p":"8c","e":"L","x":27,"y":-10},
{"g":8,"p":"8c","e":"R","x":-18,"y":9},{"g":8,"p":"8c","e":"R","x":16,"y":24},{"g":8,"p":"8c","e":"R","x":-26,"y":-26},{"g":8,"p":"8c","e":"R","x":-16,"y":-29},
{"g":8,"p":"8d","e":"R","x":-15,"y":36},{"g":8,"p":"8d","e":"R","x":20,"y":22},
{"g":8,"p":"8d","e":"L","x":-27,"y":17},{"g":8,"p":"8d","e":"L","x":-11,"y":15},{"g":8,"p":"8d","e":"L","x":-38,"y":7},{"g":8,"p":"8d","e":"L","x":21,"y":32},{"g":8,"p":"8d","e":"L","x":22,"y":14},{"g":8,"p":"8d","e":"L","x":26,"y":15},{"g":8,"p":"8d","e":"L","x":33,"y":5},
{"g":8,"p":"8e","e":"L","x":-28,"y":12},{"g":8,"p":"8e","e":"L","x":-17,"y":14},{"g":8,"p":"8e","e":"L","x":-26,"y":-11},{"g":8,"p":"8e","e":"L","x":1,"y":0},{"g":8,"p":"8e","e":"L","x":11,"y":26},{"g":8,"p":"8e","e":"L","x":16,"y":18},{"g":8,"p":"8e","e":"L","x":23,"y":15},{"g":8,"p":"8e","e":"L","x":30,"y":27},{"g":8,"p":"8e","e":"L","x":32,"y":15},{"g":8,"p":"8e","e":"L","x":30,"y":-4},{"g":8,"p":"8e","e":"L","x":24,"y":-28},
{"g":8,"p":"8e","e":"R","x":-31,"y":4},{"g":8,"p":"8e","e":"R","x":-21,"y":24},{"g":8,"p":"8e","e":"R","x":-19,"y":-11},{"g":8,"p":"8e","e":"R","x":-19,"y":-18},{"g":8,"p":"8e","e":"R","x":-20,"y":-20},{"g":8,"p":"8e","e":"R","x":-17,"y":-28},{"g":8,"p":"8e","e":"R","x":-11,"y":-31},{"g":8,"p":"8e","e":"R","x":17,"y":1},{"g":8,"p":"8e","e":"R","x":26,"y":2},{"g":8,"p":"8e","e":"R","x":22,"y":-8},{"g":8,"p":"8e","e":"R","x":32,"y":-10},{"g":8,"p":"8e","e":"R","x":28,"y":-28},
{"g":8,"p":"8f","e":"L","x":-18,"y":-5},{"g":8,"p":"8f","e":"L","x":-18,"y":-10},
{"g":8,"p":"8f","e":"R","x":-27,"y":-14},{"g":8,"p":"8f","e":"R","x":-8,"y":-25},{"g":8,"p":"8f","e":"R","x":0,"y":0},{"g":8,"p":"8f","e":"R","x":17,"y":-11},{"g":8,"p":"8f","e":"R","x":24,"y":-11},{"g":8,"p":"8f","e":"R","x":30,"y":-16},{"g":8,"p":"8f","e":"R","x":46,"y":1},
{"g":8,"p":"8g","e":"L","x":2,"y":24},{"g":8,"p":"8g","e":"L","x":5,"y":20},{"g":8,"p":"8g","e":"R","x":-11,"y":-18}
]
},
"vconcat": [
{
 "hconcat": [
  {
   "width": 207, "height": 163,
   "view": {"stroke": null, "fill": "white"},
   "data": {"values": [{"k": 1}]},
   "layer": [
    {"mark": {"type": "rule", "color": "black", "strokeWidth": 2.5},
     "encoding": {"x": {"datum": 7.5, "type": "quantitative", "scale": {"domain": [0, 207], "nice": false, "zero": false}, "axis": null}, "x2": {"datum": 29.5}, "y": {"datum": 28.5, "type": "quantitative", "scale": {"domain": [0, 163], "reverse": true, "nice": false, "zero": false}, "axis": null}}},
    {"mark": {"type": "text", "align": "left", "baseline": "alphabetic", "fontSize": 16, "color": "black", "text": "1 mm"},
     "encoding": {"x": {"datum": 7.5, "type": "quantitative", "scale": {"domain": [0, 207], "nice": false, "zero": false}, "axis": null}, "y": {"datum": 48.5, "type": "quantitative", "scale": {"domain": [0, 163], "reverse": true, "nice": false, "zero": false}, "axis": null}}},
    {"mark": {"type": "rule", "color": "black", "strokeWidth": 2},
     "encoding": {"x": {"datum": 147.5, "type": "quantitative", "scale": {"domain": [0, 207], "nice": false, "zero": false}, "axis": null}, "y": {"datum": 36, "type": "quantitative", "scale": {"domain": [0, 163], "reverse": true, "nice": false, "zero": false}, "axis": null}, "y2": {"datum": 98}}},
    {"mark": {"type": "rule", "color": "black", "strokeWidth": 2},
     "encoding": {"x": {"datum": 111, "type": "quantitative", "scale": {"domain": [0, 207], "nice": false, "zero": false}, "axis": null}, "x2": {"datum": 180}, "y": {"datum": 64.5, "type": "quantitative", "scale": {"domain": [0, 163], "reverse": true, "nice": false, "zero": false}, "axis": null}}},
    {"mark": {"type": "point", "shape": "triangle-up", "filled": true, "color": "black", "size": 110, "opacity": 1},
     "encoding": {"x": {"datum": 147.5, "type": "quantitative", "scale": {"domain": [0, 207], "nice": false, "zero": false}, "axis": null}, "y": {"datum": 38, "type": "quantitative", "scale": {"domain": [0, 163], "reverse": true, "nice": false, "zero": false}, "axis": null}}},
    {"mark": {"type": "point", "shape": "triangle-down", "filled": true, "color": "black", "size": 110, "opacity": 1},
     "encoding": {"x": {"datum": 147.5, "type": "quantitative", "scale": {"domain": [0, 207], "nice": false, "zero": false}, "axis": null}, "y": {"datum": 96, "type": "quantitative", "scale": {"domain": [0, 163], "reverse": true, "nice": false, "zero": false}, "axis": null}}},
    {"mark": {"type": "point", "shape": "triangle-left", "filled": true, "color": "black", "size": 110, "opacity": 1},
     "encoding": {"x": {"datum": 113, "type": "quantitative", "scale": {"domain": [0, 207], "nice": false, "zero": false}, "axis": null}, "y": {"datum": 64.5, "type": "quantitative", "scale": {"domain": [0, 163], "reverse": true, "nice": false, "zero": false}, "axis": null}}},
    {"mark": {"type": "point", "shape": "triangle-right", "filled": true, "color": "black", "size": 110, "opacity": 1},
     "encoding": {"x": {"datum": 178.5, "type": "quantitative", "scale": {"domain": [0, 207], "nice": false, "zero": false}, "axis": null}, "y": {"datum": 64.5, "type": "quantitative", "scale": {"domain": [0, 163], "reverse": true, "nice": false, "zero": false}, "axis": null}}},
    {"mark": {"type": "text", "align": "center", "baseline": "middle", "fontSize": 17, "color": "black", "text": "D"},
     "encoding": {"x": {"datum": 148.5, "type": "quantitative", "scale": {"domain": [0, 207], "nice": false, "zero": false}, "axis": null}, "y": {"datum": 23.5, "type": "quantitative", "scale": {"domain": [0, 163], "reverse": true, "nice": false, "zero": false}, "axis": null}}},
    {"mark": {"type": "text", "align": "center", "baseline": "middle", "fontSize": 17, "color": "black", "text": "V"},
     "encoding": {"x": {"datum": 148.5, "type": "quantitative", "scale": {"domain": [0, 207], "nice": false, "zero": false}, "axis": null}, "y": {"datum": 116.5, "type": "quantitative", "scale": {"domain": [0, 163], "reverse": true, "nice": false, "zero": false}, "axis": null}}},
    {"mark": {"type": "text", "align": "center", "baseline": "middle", "fontSize": 17, "color": "black", "text": "N"},
     "encoding": {"x": {"datum": 95, "type": "quantitative", "scale": {"domain": [0, 207], "nice": false, "zero": false}, "axis": null}, "y": {"datum": 65.5, "type": "quantitative", "scale": {"domain": [0, 163], "reverse": true, "nice": false, "zero": false}, "axis": null}}},
    {"mark": {"type": "text", "align": "center", "baseline": "middle", "fontSize": 17, "color": "black", "text": "T"},
     "encoding": {"x": {"datum": 200.5, "type": "quantitative", "scale": {"domain": [0, 207], "nice": false, "zero": false}, "axis": null}, "y": {"datum": 69.5, "type": "quantitative", "scale": {"domain": [0, 163], "reverse": true, "nice": false, "zero": false}, "axis": null}}},
    {"mark": {"type": "text", "align": "left", "baseline": "alphabetic", "fontSize": 17.5, "fontWeight": "bold", "color": "#1f5bff", "text": "Left eye"},
     "encoding": {"x": {"datum": 6.5, "type": "quantitative", "scale": {"domain": [0, 207], "nice": false, "zero": false}, "axis": null}, "y": {"datum": 88.5, "type": "quantitative", "scale": {"domain": [0, 163], "reverse": true, "nice": false, "zero": false}, "axis": null}}},
    {"mark": {"type": "text", "align": "left", "baseline": "alphabetic", "fontSize": 17.5, "fontWeight": "bold", "color": "#ff2a2a", "text": "Right eye"},
     "encoding": {"x": {"datum": 6.5, "type": "quantitative", "scale": {"domain": [0, 207], "nice": false, "zero": false}, "axis": null}, "y": {"datum": 113.5, "type": "quantitative", "scale": {"domain": [0, 163], "reverse": true, "nice": false, "zero": false}, "axis": null}}}
   ]
  },
  {
   "width": 624, "height": 163,
   "title": {"text": "ON sustained"},
   "layer": [
    {"data": {"name": "panels"}, "transform": [{"filter": "datum.g == 1"}],
     "mark": {"type": "rule", "color": "black", "strokeWidth": 1.6, "strokeDash": [7, 4]},
     "encoding": {"x": {"field": "p", "type": "nominal", "bandPosition": 0.5199, "scale": {"type": "band", "domain": ["1a","1b","1c","1d"], "paddingInner": 0, "paddingOuter": 0.0617}, "axis": null},
      "y": {"datum": 57, "type": "quantitative", "scale": {"domain": [-73, 90], "nice": false, "zero": false}, "axis": null}, "y2": {"datum": -73}}},
    {"data": {"name": "panels"}, "transform": [{"filter": "datum.g == 1"}],
     "mark": {"type": "rule", "color": "black", "strokeWidth": 1.6, "strokeDash": [7, 4]},
     "encoding": {"x": {"field": "p", "type": "nominal", "bandPosition": 0.0903, "scale": {"type": "band", "domain": ["1a","1b","1c","1d"], "paddingInner": 0, "paddingOuter": 0.0617}, "axis": null},
      "x2": {"field": "p", "bandPosition": 0.9031},
      "y": {"datum": 0, "type": "quantitative", "scale": {"domain": [-73, 90], "nice": false, "zero": false}, "axis": null}}},
    {"data": {"name": "panels"}, "transform": [{"filter": "datum.g == 1"}],
     "mark": {"type": "text", "align": "left", "baseline": "alphabetic", "fontSize": 17.5, "color": "black"},
     "encoding": {"x": {"field": "p", "type": "nominal", "bandPosition": 0.0837, "scale": {"type": "band", "domain": ["1a","1b","1c","1d"], "paddingInner": 0, "paddingOuter": 0.0617}, "axis": null},
      "y": {"datum": -59, "type": "quantitative", "scale": {"domain": [-73, 90], "nice": false, "zero": false}, "axis": null}, "text": {"field": "label"}}},
    {"data": {"name": "pts"}, "transform": [{"filter": "datum.g == 1"}],
     "mark": {"type": "circle", "size": 45, "opacity": 1},
     "encoding": {"x": {"field": "p", "type": "nominal", "scale": {"type": "band", "domain": ["1a","1b","1c","1d"], "paddingInner": 0, "paddingOuter": 0.0617}, "axis": null},
      "xOffset": {"field": "x", "type": "quantitative", "scale": {"domain": [-78.67, 72.67], "nice": false, "zero": false}},
      "y": {"field": "y", "type": "quantitative", "scale": {"domain": [-73, 90], "nice": false, "zero": false}, "axis": null},
      "color": {"field": "e", "type": "nominal", "scale": {"domain": ["L","R"], "range": ["#0000ff","#ff0000"]}, "legend": null}}}
   ]
  }
 ],
 "spacing": 3,
 "resolve": {"scale": {"xOffset": "independent"}}
},
{
 "width": 905, "height": 163,
 "title": {"text": "OFF sustained"},
 "layer": [
  {"data": {"name": "panels"}, "transform": [{"filter": "datum.g == 2"}],
   "mark": {"type": "rule", "color": "black", "strokeWidth": 1.6, "strokeDash": [7, 4]},
   "encoding": {"x": {"field": "p", "type": "nominal", "bandPosition": 0.5039, "scale": {"type": "band", "domain": ["2a","2b","2c","2d","2e","2f"], "paddingInner": 0, "paddingOuter": 0}, "axis": null},
    "y": {"datum": 57, "type": "quantitative", "scale": {"domain": [-80, 83], "nice": false, "zero": false}, "axis": null}, "y2": {"datum": -80}}},
  {"data": {"name": "panels"}, "transform": [{"filter": "datum.g == 2"}],
   "mark": {"type": "rule", "color": "black", "strokeWidth": 1.6, "strokeDash": [7, 4]},
   "encoding": {"x": {"field": "p", "type": "nominal", "bandPosition": 0.0729, "scale": {"type": "band", "domain": ["2a","2b","2c","2d","2e","2f"], "paddingInner": 0, "paddingOuter": 0}, "axis": null},
    "x2": {"field": "p", "bandPosition": 0.8884},
    "y": {"datum": 0, "type": "quantitative", "scale": {"domain": [-80, 83], "nice": false, "zero": false}, "axis": null}}},
  {"data": {"name": "panels"}, "transform": [{"filter": "datum.g == 2"}],
   "mark": {"type": "text", "align": "left", "baseline": "alphabetic", "fontSize": 17.5, "color": "black"},
   "encoding": {"x": {"field": "p", "type": "nominal", "bandPosition": 0.0862, "scale": {"type": "band", "domain": ["2a","2b","2c","2d","2e","2f"], "paddingInner": 0, "paddingOuter": 0}, "axis": null},
    "y": {"datum": -69, "type": "quantitative", "scale": {"domain": [-80, 83], "nice": false, "zero": false}, "axis": null}, "text": {"field": "label"}}},
  {"data": {"name": "pts"}, "transform": [{"filter": "datum.g == 2"}],
   "mark": {"type": "circle", "size": 45, "opacity": 1},
   "encoding": {"x": {"field": "p", "type": "nominal", "scale": {"type": "band", "domain": ["2a","2b","2c","2d","2e","2f"], "paddingInner": 0, "paddingOuter": 0}, "axis": null},
    "xOffset": {"field": "x", "type": "quantitative", "scale": {"domain": [-76, 74.83], "nice": false, "zero": false}},
    "y": {"field": "y", "type": "quantitative", "scale": {"domain": [-80, 83], "nice": false, "zero": false}, "axis": null},
    "color": {"field": "e", "type": "nominal", "scale": {"domain": ["L","R"], "range": ["#0000ff","#ff0000"]}, "legend": null}}}
 ]
},
{
 "hconcat": [
  {
   "width": 603, "height": 163,
   "title": {"text": "ON transient"},
   "layer": [
    {"data": {"name": "panels"}, "transform": [{"filter": "datum.g == 3"}],
     "mark": {"type": "rule", "color": "black", "strokeWidth": 1.6, "strokeDash": [7, 4]},
     "encoding": {"x": {"field": "p", "type": "nominal", "bandPosition": 0.48, "scale": {"type": "band", "domain": ["3a","3b","3c","3d"], "paddingInner": 0, "paddingOuter": 0.01445}, "axis": null},
      "y": {"datum": 57, "type": "quantitative", "scale": {"domain": [-68, 95], "nice": false, "zero": false}, "axis": null}, "y2": {"datum": -68}}},
    {"data": {"name": "panels"}, "transform": [{"filter": "datum.g == 3"}],
     "mark": {"type": "rule", "color": "black", "strokeWidth": 1.6, "strokeDash": [7, 4]},
     "encoding": {"x": {"field": "p", "type": "nominal", "bandPosition": 0.0457, "scale": {"type": "band", "domain": ["3a","3b","3c","3d"], "paddingInner": 0, "paddingOuter": 0.01445}, "axis": null},
      "x2": {"field": "p", "bandPosition": 0.8675},
      "y": {"datum": 0, "type": "quantitative", "scale": {"domain": [-68, 95], "nice": false, "zero": false}, "axis": null}}},
    {"data": {"name": "panels"}, "transform": [{"filter": "datum.g == 3"}],
     "mark": {"type": "text", "align": "left", "baseline": "alphabetic", "fontSize": 17.5, "color": "black"},
     "encoding": {"x": {"field": "p", "type": "nominal", "bandPosition": 0.039, "scale": {"type": "band", "domain": ["3a","3b","3c","3d"], "paddingInner": 0, "paddingOuter": 0.01445}, "axis": null},
      "y": {"datum": -60, "type": "quantitative", "scale": {"domain": [-68, 95], "nice": false, "zero": false}, "axis": null}, "text": {"field": "label"}}},
    {"data": {"name": "pts"}, "transform": [{"filter": "datum.g == 3"}],
     "mark": {"type": "circle", "size": 45, "opacity": 1},
     "encoding": {"x": {"field": "p", "type": "nominal", "scale": {"type": "band", "domain": ["3a","3b","3c","3d"], "paddingInner": 0, "paddingOuter": 0.01445}, "axis": null},
      "xOffset": {"field": "x", "type": "quantitative", "scale": {"domain": [-71.84, 77.83], "nice": false, "zero": false}},
      "y": {"field": "y", "type": "quantitative", "scale": {"domain": [-68, 95], "nice": false, "zero": false}, "axis": null},
      "color": {"field": "e", "type": "nominal", "scale": {"domain": ["L","R"], "range": ["#0000ff","#ff0000"]}, "legend": null}}}
   ]
  },
  {
   "width": 489, "height": 163,
   "title": {"text": "OFF transient"},
   "layer": [
    {"data": {"name": "panels"}, "transform": [{"filter": "datum.g == 4"}],
     "mark": {"type": "rule", "color": "black", "strokeWidth": 1.6, "strokeDash": [7, 4]},
     "encoding": {"x": {"field": "p", "type": "nominal", "bandPosition": 0.5723, "scale": {"type": "band", "domain": ["4a","4b","4c"], "paddingInner": 0, "paddingOuter": 0.0377}, "axis": null},
      "y": {"datum": 57, "type": "quantitative", "scale": {"domain": [-68, 95], "nice": false, "zero": false}, "axis": null}, "y2": {"datum": -68}}},
    {"data": {"name": "panels"}, "transform": [{"filter": "datum.g == 4"}],
     "mark": {"type": "rule", "color": "black", "strokeWidth": 1.6, "strokeDash": [7, 4]},
     "encoding": {"x": {"field": "p", "type": "nominal", "bandPosition": 0.1635, "scale": {"type": "band", "domain": ["4a","4b","4c"], "paddingInner": 0, "paddingOuter": 0.0377}, "axis": null},
      "x2": {"field": "p", "bandPosition": 0.9371},
      "y": {"datum": 0, "type": "quantitative", "scale": {"domain": [-68, 95], "nice": false, "zero": false}, "axis": null}}},
    {"data": {"name": "panels"}, "transform": [{"filter": "datum.g == 4"}],
     "mark": {"type": "text", "align": "left", "baseline": "alphabetic", "fontSize": 17.5, "color": "black"},
     "encoding": {"x": {"field": "p", "type": "nominal", "bandPosition": 0.151, "scale": {"type": "band", "domain": ["4a","4b","4c"], "paddingInner": 0, "paddingOuter": 0.0377}, "axis": null},
      "y": {"datum": -61, "type": "quantitative", "scale": {"domain": [-68, 95], "nice": false, "zero": false}, "axis": null}, "text": {"field": "label"}}},
    {"data": {"name": "pts"}, "transform": [{"filter": "datum.g == 4"}],
     "mark": {"type": "circle", "size": 45, "opacity": 1},
     "encoding": {"x": {"field": "p", "type": "nominal", "scale": {"type": "band", "domain": ["4a","4b","4c"], "paddingInner": 0, "paddingOuter": 0.0377}, "axis": null},
      "xOffset": {"field": "x", "type": "quantitative", "scale": {"domain": [-91, 68], "nice": false, "zero": false}},
      "y": {"field": "y", "type": "quantitative", "scale": {"domain": [-68, 95], "nice": false, "zero": false}, "axis": null},
      "color": {"field": "e", "type": "nominal", "scale": {"domain": ["L","R"], "range": ["#0000ff","#ff0000"]}, "legend": null}}}
   ]
  }
 ],
 "spacing": 7,
 "resolve": {"scale": {"xOffset": "independent"}}
},
{
 "width": 603, "height": 164,
 "title": {"text": "ON OS"},
 "layer": [
  {"data": {"name": "panels"}, "transform": [{"filter": "datum.g == 5"}],
   "mark": {"type": "rule", "color": "black", "strokeWidth": 1.6, "strokeDash": [7, 4]},
   "encoding": {"x": {"field": "p", "type": "nominal", "bandPosition": 0.5138, "scale": {"type": "band", "domain": ["5a","5b","5c","5d"], "paddingInner": 0, "paddingOuter": 0.089}, "axis": null},
    "y": {"datum": 57, "type": "quantitative", "scale": {"domain": [-71, 93], "nice": false, "zero": false}, "axis": null}, "y2": {"datum": -71}}},
  {"data": {"name": "panels"}, "transform": [{"filter": "datum.g == 5"}],
   "mark": {"type": "rule", "color": "black", "strokeWidth": 1.6, "strokeDash": [7, 4]},
   "encoding": {"x": {"field": "p", "type": "nominal", "bandPosition": 0.0635, "scale": {"type": "band", "domain": ["5a","5b","5c","5d"], "paddingInner": 0, "paddingOuter": 0.089}, "axis": null},
    "x2": {"field": "p", "bandPosition": 0.9157},
    "y": {"datum": 0, "type": "quantitative", "scale": {"domain": [-71, 93], "nice": false, "zero": false}, "axis": null}}},
  {"data": {"name": "panels"}, "transform": [{"filter": "datum.g == 5"}],
   "mark": {"type": "text", "align": "left", "baseline": "alphabetic", "fontSize": 17.5, "color": "black"},
   "encoding": {"x": {"field": "p", "type": "nominal", "bandPosition": 0.0496, "scale": {"type": "band", "domain": ["5a","5b","5c","5d"], "paddingInner": 0, "paddingOuter": 0.089}, "axis": null},
    "y": {"datum": -57, "type": "quantitative", "scale": {"domain": [-71, 93], "nice": false, "zero": false}, "axis": null}, "text": {"field": "label"}}},
  {"data": {"name": "pts"}, "transform": [{"filter": "datum.g == 5"}],
   "mark": {"type": "circle", "size": 45, "opacity": 1},
   "encoding": {"x": {"field": "p", "type": "nominal", "scale": {"type": "band", "domain": ["5a","5b","5c","5d"], "paddingInner": 0, "paddingOuter": 0.089}, "axis": null},
    "xOffset": {"field": "x", "type": "quantitative", "scale": {"domain": [-74.16, 70.17], "nice": false, "zero": false}},
    "y": {"field": "y", "type": "quantitative", "scale": {"domain": [-71, 93], "nice": false, "zero": false}, "axis": null},
    "color": {"field": "e", "type": "nominal", "scale": {"domain": ["L","R"], "range": ["#0000ff","#ff0000"]}, "legend": null}}}
 ]
},
{
 "width": 1186, "height": 164,
 "title": {"text": "DS"},
 "layer": [
  {"data": {"name": "panels"}, "transform": [{"filter": "datum.g == 6"}],
   "mark": {"type": "rule", "color": "black", "strokeWidth": 1.6, "strokeDash": [7, 4]},
   "encoding": {"x": {"field": "p", "type": "nominal", "bandPosition": 0.5776, "scale": {"type": "band", "domain": ["6a","6b","6c","6d","6e","6f","6g","6h"], "paddingInner": 0, "paddingOuter": 0.003}, "axis": null},
    "y": {"datum": 57, "type": "quantitative", "scale": {"domain": [-74, 90], "nice": false, "zero": false}, "axis": null}, "y2": {"datum": -74}}},
  {"data": {"name": "panels"}, "transform": [{"filter": "datum.g == 6"}],
   "mark": {"type": "rule", "color": "black", "strokeWidth": 1.6, "strokeDash": [7, 4]},
   "encoding": {"x": {"field": "p", "type": "nominal", "bandPosition": 0.1388, "scale": {"type": "band", "domain": ["6a","6b","6c","6d","6e","6f","6g","6h"], "paddingInner": 0, "paddingOuter": 0.003}, "axis": null},
    "x2": {"field": "p", "bandPosition": 0.969},
    "y": {"datum": 0, "type": "quantitative", "scale": {"domain": [-74, 90], "nice": false, "zero": false}, "axis": null}}},
  {"data": {"name": "panels"}, "transform": [{"filter": "datum.g == 6"}],
   "mark": {"type": "text", "align": "left", "baseline": "alphabetic", "fontSize": 17.5, "color": "black"},
   "encoding": {"x": {"field": "p", "type": "nominal", "bandPosition": 0.1928, "scale": {"type": "band", "domain": ["6a","6b","6c","6d","6e","6f","6g","6h"], "paddingInner": 0, "paddingOuter": 0.003}, "axis": null},
    "y": {"datum": -61, "type": "quantitative", "scale": {"domain": [-74, 90], "nice": false, "zero": false}, "axis": null}, "text": {"field": "label"}}},
  {"data": {"name": "pts"}, "transform": [{"filter": "datum.g == 6"}],
   "mark": {"type": "circle", "size": 45, "opacity": 1},
   "encoding": {"x": {"field": "p", "type": "nominal", "scale": {"type": "band", "domain": ["6a","6b","6c","6d","6e","6f","6g","6h"], "paddingInner": 0, "paddingOuter": 0.003}, "axis": null},
    "xOffset": {"field": "x", "type": "quantitative", "scale": {"domain": [-85.56, 62.58], "nice": false, "zero": false}},
    "y": {"field": "y", "type": "quantitative", "scale": {"domain": [-74, 90], "nice": false, "zero": false}, "axis": null},
    "color": {"field": "e", "type": "nominal", "scale": {"domain": ["L","R"], "range": ["#0000ff","#ff0000"]}, "legend": null}}}
 ]
},
{
 "width": 957, "height": 164,
 "title": {"text": "ON-OFF small RF"},
 "layer": [
  {"data": {"name": "panels"}, "transform": [{"filter": "datum.g == 7"}],
   "mark": {"type": "rule", "color": "black", "strokeWidth": 1.6, "strokeDash": [7, 4]},
   "encoding": {"x": {"field": "p", "type": "nominal", "bandPosition": 0.5184, "scale": {"type": "band", "domain": ["7a","7b","7c","7d","7e","7f"], "paddingInner": 0, "paddingOuter": 0.264, "align": 0.09}, "axis": null},
    "y": {"datum": 57, "type": "quantitative", "scale": {"domain": [-75, 89], "nice": false, "zero": false}, "axis": null}, "y2": {"datum": -75}}},
  {"data": {"name": "panels"}, "transform": [{"filter": "datum.g == 7"}],
   "mark": {"type": "rule", "color": "black", "strokeWidth": 1.6, "strokeDash": [7, 4]},
   "encoding": {"x": {"field": "p", "type": "nominal", "bandPosition": 0.075, "scale": {"type": "band", "domain": ["7a","7b","7c","7d","7e","7f"], "paddingInner": 0, "paddingOuter": 0.264, "align": 0.09}, "axis": null},
    "x2": {"field": "p", "bandPosition": 0.914},
    "y": {"datum": 0, "type": "quantitative", "scale": {"domain": [-75, 89], "nice": false, "zero": false}, "axis": null}}},
  {"data": {"name": "panels"}, "transform": [{"filter": "datum.g == 7"}],
   "mark": {"type": "text", "align": "left", "baseline": "alphabetic", "fontSize": 17.5, "color": "black"},
   "encoding": {"x": {"field": "p", "type": "nominal", "bandPosition": 0.116, "scale": {"type": "band", "domain": ["7a","7b","7c","7d","7e","7f"], "paddingInner": 0, "paddingOuter": 0.264, "align": 0.09}, "axis": null},
    "y": {"datum": -65, "type": "quantitative", "scale": {"domain": [-75, 89], "nice": false, "zero": false}, "axis": null}, "text": {"field": "label"}}},
  {"data": {"name": "pts"}, "transform": [{"filter": "datum.g == 7"}],
   "mark": {"type": "circle", "size": 45, "opacity": 1},
   "encoding": {"x": {"field": "p", "type": "nominal", "scale": {"type": "band", "domain": ["7a","7b","7c","7d","7e","7f"], "paddingInner": 0, "paddingOuter": 0.264, "align": 0.09}, "axis": null},
    "xOffset": {"field": "x", "type": "quantitative", "scale": {"domain": [-76, 70.6], "nice": false, "zero": false}},
    "y": {"field": "y", "type": "quantitative", "scale": {"domain": [-75, 89], "nice": false, "zero": false}, "axis": null},
    "color": {"field": "e", "type": "nominal", "scale": {"domain": ["L","R"], "range": ["#0000ff","#ff0000"]}, "legend": null}}}
 ]
},
{
 "width": 1048, "height": 161,
 "title": {"text": "SbC / Other", "offset": -32},
 "layer": [
  {"data": {"name": "panels"}, "transform": [{"filter": "datum.g == 8"}],
   "mark": {"type": "rule", "color": "black", "strokeWidth": 1.6, "strokeDash": [7, 4]},
   "encoding": {"x": {"field": "p", "type": "nominal", "bandPosition": 0.558, "scale": {"type": "band", "domain": ["8a","8b","8c","8d","8e","8f","8g"], "paddingInner": 0, "paddingOuter": 0.0686}, "axis": null},
    "y": {"datum": 57, "type": "quantitative", "scale": {"domain": [-71, 90], "nice": false, "zero": false}, "axis": null}, "y2": {"datum": -71}}},
  {"data": {"name": "panels"}, "transform": [{"filter": "datum.g == 8"}],
   "mark": {"type": "rule", "color": "black", "strokeWidth": 1.6, "strokeDash": [7, 4]},
   "encoding": {"x": {"field": "p", "type": "nominal", "bandPosition": 0.1153, "scale": {"type": "band", "domain": ["8a","8b","8c","8d","8e","8f","8g"], "paddingInner": 0, "paddingOuter": 0.0686}, "axis": null},
    "x2": {"field": "p", "bandPosition": 0.953},
    "y": {"datum": 0, "type": "quantitative", "scale": {"domain": [-71, 90], "nice": false, "zero": false}, "axis": null}}},
  {"data": {"name": "panels"}, "transform": [{"filter": "datum.g == 8"}],
   "mark": {"type": "text", "align": "left", "baseline": "alphabetic", "fontSize": 17.5, "color": "black"},
   "encoding": {"x": {"field": "p", "type": "nominal", "bandPosition": 0.1017, "scale": {"type": "band", "domain": ["8a","8b","8c","8d","8e","8f","8g"], "paddingInner": 0, "paddingOuter": 0.0686}, "axis": null},
    "y": {"datum": -67, "type": "quantitative", "scale": {"domain": [-71, 90], "nice": false, "zero": false}, "axis": null}, "text": {"field": "label"}}},
  {"data": {"name": "pts"}, "transform": [{"filter": "datum.g == 8"}],
   "mark": {"type": "circle", "size": 45, "opacity": 1},
   "encoding": {"x": {"field": "p", "type": "nominal", "scale": {"type": "band", "domain": ["8a","8b","8c","8d","8e","8f","8g"], "paddingInner": 0, "paddingOuter": 0.0686}, "axis": null},
    "xOffset": {"field": "x", "type": "quantitative", "scale": {"domain": [-81.93, 64.9], "nice": false, "zero": false}},
    "y": {"field": "y", "type": "quantitative", "scale": {"domain": [-71, 90], "nice": false, "zero": false}, "axis": null},
    "color": {"field": "e", "type": "nominal", "scale": {"domain": ["L","R"], "range": ["#0000ff","#ff0000"]}, "legend": null}}}
 ]
}
]
}
